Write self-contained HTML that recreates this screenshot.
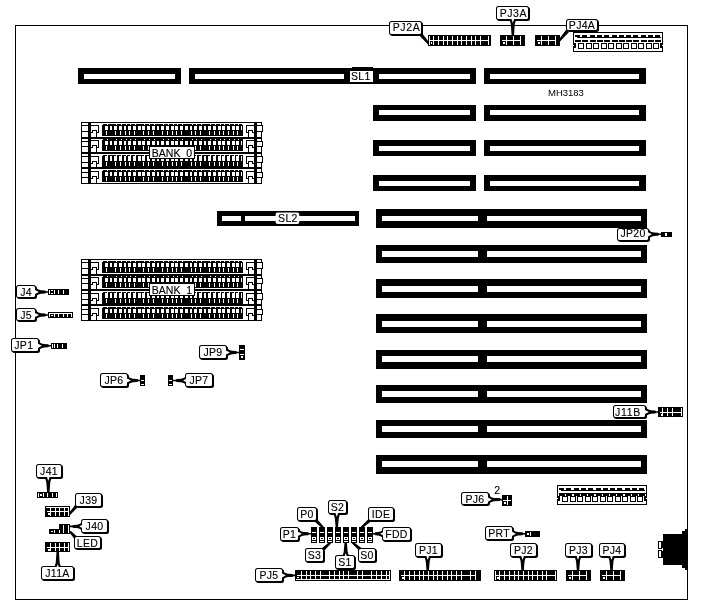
<!DOCTYPE html>
<html><head><meta charset="utf-8"><title>MH3183</title>
<style>
html,body{margin:0;padding:0;background:#fff;}
svg{display:block;will-change:transform;}
text{font-family:"Liberation Sans",sans-serif;}
</style></head><body>
<svg width="702" height="611" viewBox="0 0 702 611" shape-rendering="crispEdges">
<rect x="0" y="0" width="702" height="611" fill="#fff"/>
<rect x="15" y="25" width="673" height="1" fill="#000"/>
<rect x="15" y="25" width="1" height="575" fill="#000"/>
<rect x="687" y="25" width="1" height="575" fill="#000"/>
<rect x="15" y="599" width="673" height="1" fill="#000"/>
<rect x="78" y="68" width="103" height="16" fill="#000"/>
<rect x="84" y="74" width="91" height="5" fill="#fff"/>
<rect x="189" y="68" width="287" height="16" fill="#000"/>
<rect x="352" y="67" width="21" height="1" fill="#000"/>
<rect x="195" y="74" width="149" height="5" fill="#fff"/>
<rect x="379" y="74" width="91" height="5" fill="#fff"/>
<rect x="484" y="68" width="162" height="16" fill="#000"/>
<rect x="490" y="74" width="149" height="5" fill="#fff"/>
<rect x="373" y="105" width="103" height="16" fill="#000"/>
<rect x="379" y="110" width="91" height="5" fill="#fff"/>
<rect x="484" y="105" width="162" height="16" fill="#000"/>
<rect x="490" y="110" width="149" height="5" fill="#fff"/>
<rect x="373" y="140" width="103" height="16" fill="#000"/>
<rect x="379" y="146" width="91" height="5" fill="#fff"/>
<rect x="484" y="140" width="162" height="16" fill="#000"/>
<rect x="490" y="146" width="149" height="5" fill="#fff"/>
<rect x="373" y="175" width="103" height="16" fill="#000"/>
<rect x="379" y="181" width="91" height="5" fill="#fff"/>
<rect x="484" y="175" width="162" height="16" fill="#000"/>
<rect x="490" y="181" width="149" height="5" fill="#fff"/>
<rect x="217" y="211" width="142" height="15" fill="#000"/>
<rect x="222" y="216" width="19" height="5" fill="#fff"/>
<rect x="245" y="216" width="110" height="5" fill="#fff"/>
<rect x="376" y="209" width="271" height="19" fill="#000"/>
<rect x="382" y="216" width="96" height="5" fill="#fff"/>
<rect x="487" y="216" width="154" height="5" fill="#fff"/>
<rect x="376" y="245" width="271" height="18" fill="#000"/>
<rect x="382" y="251" width="96" height="6" fill="#fff"/>
<rect x="487" y="251" width="154" height="6" fill="#fff"/>
<rect x="376" y="279" width="271" height="19" fill="#000"/>
<rect x="382" y="286" width="96" height="6" fill="#fff"/>
<rect x="487" y="286" width="154" height="6" fill="#fff"/>
<rect x="376" y="314" width="271" height="19" fill="#000"/>
<rect x="382" y="321" width="96" height="6" fill="#fff"/>
<rect x="487" y="321" width="154" height="6" fill="#fff"/>
<rect x="376" y="350" width="271" height="19" fill="#000"/>
<rect x="382" y="356" width="96" height="6" fill="#fff"/>
<rect x="487" y="356" width="154" height="6" fill="#fff"/>
<rect x="376" y="385" width="271" height="18" fill="#000"/>
<rect x="382" y="391" width="96" height="6" fill="#fff"/>
<rect x="487" y="391" width="154" height="6" fill="#fff"/>
<rect x="376" y="420" width="271" height="18" fill="#000"/>
<rect x="382" y="426" width="96" height="6" fill="#fff"/>
<rect x="487" y="426" width="154" height="6" fill="#fff"/>
<rect x="376" y="455" width="271" height="19" fill="#000"/>
<rect x="382" y="461" width="96" height="6" fill="#fff"/>
<rect x="487" y="461" width="154" height="6" fill="#fff"/>
<rect x="81" y="122" width="181" height="1" fill="#000"/>
<rect x="81" y="122" width="1" height="16" fill="#000"/>
<rect x="261" y="122" width="1" height="16" fill="#000"/>
<rect x="82" y="125" width="6" height="1" fill="#000"/>
<rect x="82" y="131" width="6" height="1" fill="#000"/>
<rect x="88" y="122" width="3" height="16" fill="#000"/>
<rect x="91" y="125" width="8" height="1" fill="#000"/>
<rect x="98" y="125" width="1" height="8" fill="#000"/>
<rect x="96" y="132" width="3" height="1" fill="#000"/>
<rect x="96" y="130" width="1" height="7" fill="#000"/>
<rect x="92" y="130" width="5" height="1" fill="#000"/>
<rect x="92" y="130" width="1" height="3" fill="#000"/>
<rect x="91" y="132" width="2" height="1" fill="#000"/>
<rect x="102" y="124" width="141" height="12" fill="#000"/>
<rect x="102" y="124" width="1" height="1" fill="#fff"/>
<rect x="242" y="124" width="1" height="1" fill="#fff"/>
<rect x="105" y="126" width="3" height="4" fill="#fff"/>
<rect x="106" y="131" width="1" height="4" fill="#fff"/>
<rect x="107" y="124" width="1" height="1" fill="#fff"/>
<rect x="110" y="126" width="2" height="4" fill="#fff"/>
<rect x="114" y="126" width="3" height="4" fill="#fff"/>
<rect x="115" y="131" width="1" height="4" fill="#fff"/>
<rect x="116" y="124" width="1" height="1" fill="#fff"/>
<rect x="119" y="126" width="3" height="4" fill="#fff"/>
<rect x="120" y="131" width="1" height="4" fill="#fff"/>
<rect x="121" y="124" width="1" height="1" fill="#fff"/>
<rect x="124" y="126" width="2" height="4" fill="#fff"/>
<rect x="125" y="131" width="1" height="4" fill="#fff"/>
<rect x="126" y="124" width="1" height="1" fill="#fff"/>
<rect x="128" y="126" width="3" height="4" fill="#fff"/>
<rect x="129" y="131" width="1" height="4" fill="#fff"/>
<rect x="130" y="124" width="1" height="1" fill="#fff"/>
<rect x="133" y="126" width="3" height="4" fill="#fff"/>
<rect x="134" y="131" width="1" height="4" fill="#fff"/>
<rect x="135" y="124" width="1" height="1" fill="#fff"/>
<rect x="138" y="126" width="3" height="4" fill="#fff"/>
<rect x="142" y="126" width="3" height="4" fill="#fff"/>
<rect x="143" y="131" width="1" height="4" fill="#fff"/>
<rect x="144" y="124" width="1" height="1" fill="#fff"/>
<rect x="147" y="126" width="3" height="4" fill="#fff"/>
<rect x="148" y="131" width="1" height="4" fill="#fff"/>
<rect x="149" y="124" width="1" height="1" fill="#fff"/>
<rect x="152" y="126" width="3" height="4" fill="#fff"/>
<rect x="153" y="131" width="1" height="4" fill="#fff"/>
<rect x="154" y="124" width="1" height="1" fill="#fff"/>
<rect x="157" y="126" width="2" height="4" fill="#fff"/>
<rect x="161" y="126" width="3" height="4" fill="#fff"/>
<rect x="162" y="131" width="1" height="4" fill="#fff"/>
<rect x="163" y="124" width="1" height="1" fill="#fff"/>
<rect x="166" y="126" width="3" height="4" fill="#fff"/>
<rect x="167" y="131" width="1" height="4" fill="#fff"/>
<rect x="168" y="124" width="1" height="1" fill="#fff"/>
<rect x="171" y="126" width="3" height="4" fill="#fff"/>
<rect x="172" y="131" width="1" height="4" fill="#fff"/>
<rect x="173" y="124" width="1" height="1" fill="#fff"/>
<rect x="175" y="126" width="3" height="4" fill="#fff"/>
<rect x="176" y="131" width="1" height="4" fill="#fff"/>
<rect x="177" y="124" width="1" height="1" fill="#fff"/>
<rect x="180" y="126" width="3" height="4" fill="#fff"/>
<rect x="181" y="131" width="1" height="4" fill="#fff"/>
<rect x="182" y="124" width="1" height="1" fill="#fff"/>
<rect x="185" y="126" width="3" height="4" fill="#fff"/>
<rect x="190" y="126" width="2" height="4" fill="#fff"/>
<rect x="191" y="131" width="1" height="4" fill="#fff"/>
<rect x="192" y="124" width="1" height="1" fill="#fff"/>
<rect x="194" y="126" width="3" height="4" fill="#fff"/>
<rect x="195" y="131" width="1" height="4" fill="#fff"/>
<rect x="196" y="124" width="1" height="1" fill="#fff"/>
<rect x="199" y="126" width="3" height="4" fill="#fff"/>
<rect x="200" y="131" width="1" height="4" fill="#fff"/>
<rect x="201" y="124" width="1" height="1" fill="#fff"/>
<rect x="204" y="126" width="2" height="4" fill="#fff"/>
<rect x="208" y="126" width="3" height="4" fill="#fff"/>
<rect x="209" y="131" width="1" height="4" fill="#fff"/>
<rect x="210" y="124" width="1" height="1" fill="#fff"/>
<rect x="213" y="126" width="3" height="4" fill="#fff"/>
<rect x="214" y="131" width="1" height="4" fill="#fff"/>
<rect x="215" y="124" width="1" height="1" fill="#fff"/>
<rect x="218" y="126" width="3" height="4" fill="#fff"/>
<rect x="219" y="131" width="1" height="4" fill="#fff"/>
<rect x="220" y="124" width="1" height="1" fill="#fff"/>
<rect x="222" y="126" width="3" height="4" fill="#fff"/>
<rect x="223" y="131" width="1" height="4" fill="#fff"/>
<rect x="224" y="124" width="1" height="1" fill="#fff"/>
<rect x="227" y="126" width="3" height="4" fill="#fff"/>
<rect x="228" y="131" width="1" height="4" fill="#fff"/>
<rect x="229" y="124" width="1" height="1" fill="#fff"/>
<rect x="232" y="126" width="3" height="4" fill="#fff"/>
<rect x="233" y="131" width="1" height="4" fill="#fff"/>
<rect x="234" y="124" width="1" height="1" fill="#fff"/>
<rect x="236" y="126" width="3" height="4" fill="#fff"/>
<rect x="237" y="131" width="1" height="4" fill="#fff"/>
<rect x="238" y="124" width="1" height="1" fill="#fff"/>
<rect x="241" y="126" width="1" height="4" fill="#fff"/>
<rect x="246" y="125" width="8" height="1" fill="#000"/>
<rect x="246" y="125" width="1" height="8" fill="#000"/>
<rect x="246" y="132" width="3" height="1" fill="#000"/>
<rect x="248" y="130" width="1" height="7" fill="#000"/>
<rect x="248" y="130" width="5" height="1" fill="#000"/>
<rect x="252" y="130" width="1" height="3" fill="#000"/>
<rect x="252" y="132" width="2" height="1" fill="#000"/>
<rect x="254" y="122" width="3" height="16" fill="#000"/>
<rect x="257" y="125" width="5" height="1" fill="#000"/>
<rect x="257" y="131" width="5" height="1" fill="#000"/>
<rect x="262" y="125" width="1" height="7" fill="#000"/>
<rect x="261" y="126" width="1" height="5" fill="#fff"/>
<rect x="81" y="137" width="181" height="2" fill="#000"/>
<rect x="81" y="137" width="1" height="16" fill="#000"/>
<rect x="261" y="137" width="1" height="16" fill="#000"/>
<rect x="82" y="141" width="6" height="1" fill="#000"/>
<rect x="82" y="146" width="6" height="1" fill="#000"/>
<rect x="88" y="137" width="3" height="16" fill="#000"/>
<rect x="91" y="140" width="8" height="1" fill="#000"/>
<rect x="98" y="140" width="1" height="8" fill="#000"/>
<rect x="96" y="147" width="3" height="1" fill="#000"/>
<rect x="96" y="145" width="1" height="7" fill="#000"/>
<rect x="92" y="145" width="5" height="1" fill="#000"/>
<rect x="92" y="145" width="1" height="3" fill="#000"/>
<rect x="91" y="147" width="2" height="1" fill="#000"/>
<rect x="102" y="139" width="141" height="12" fill="#000"/>
<rect x="102" y="139" width="1" height="1" fill="#fff"/>
<rect x="105" y="141" width="3" height="4" fill="#fff"/>
<rect x="106" y="146" width="1" height="4" fill="#fff"/>
<rect x="107" y="139" width="1" height="1" fill="#fff"/>
<rect x="110" y="141" width="2" height="4" fill="#fff"/>
<rect x="114" y="141" width="3" height="4" fill="#fff"/>
<rect x="115" y="146" width="1" height="4" fill="#fff"/>
<rect x="116" y="139" width="1" height="1" fill="#fff"/>
<rect x="119" y="141" width="3" height="4" fill="#fff"/>
<rect x="120" y="146" width="1" height="4" fill="#fff"/>
<rect x="121" y="139" width="1" height="1" fill="#fff"/>
<rect x="124" y="141" width="2" height="4" fill="#fff"/>
<rect x="125" y="146" width="1" height="4" fill="#fff"/>
<rect x="126" y="139" width="1" height="1" fill="#fff"/>
<rect x="128" y="141" width="3" height="4" fill="#fff"/>
<rect x="129" y="146" width="1" height="4" fill="#fff"/>
<rect x="130" y="139" width="1" height="1" fill="#fff"/>
<rect x="133" y="141" width="3" height="4" fill="#fff"/>
<rect x="134" y="146" width="1" height="4" fill="#fff"/>
<rect x="135" y="139" width="1" height="1" fill="#fff"/>
<rect x="138" y="141" width="3" height="4" fill="#fff"/>
<rect x="142" y="141" width="3" height="4" fill="#fff"/>
<rect x="143" y="146" width="1" height="4" fill="#fff"/>
<rect x="144" y="139" width="1" height="1" fill="#fff"/>
<rect x="147" y="141" width="3" height="4" fill="#fff"/>
<rect x="148" y="146" width="1" height="4" fill="#fff"/>
<rect x="149" y="139" width="1" height="1" fill="#fff"/>
<rect x="152" y="141" width="3" height="4" fill="#fff"/>
<rect x="153" y="146" width="1" height="4" fill="#fff"/>
<rect x="154" y="139" width="1" height="1" fill="#fff"/>
<rect x="157" y="141" width="2" height="4" fill="#fff"/>
<rect x="161" y="141" width="3" height="4" fill="#fff"/>
<rect x="162" y="146" width="1" height="4" fill="#fff"/>
<rect x="163" y="139" width="1" height="1" fill="#fff"/>
<rect x="166" y="141" width="3" height="4" fill="#fff"/>
<rect x="167" y="146" width="1" height="4" fill="#fff"/>
<rect x="168" y="139" width="1" height="1" fill="#fff"/>
<rect x="171" y="141" width="3" height="4" fill="#fff"/>
<rect x="172" y="146" width="1" height="4" fill="#fff"/>
<rect x="173" y="139" width="1" height="1" fill="#fff"/>
<rect x="175" y="141" width="3" height="4" fill="#fff"/>
<rect x="176" y="146" width="1" height="4" fill="#fff"/>
<rect x="177" y="139" width="1" height="1" fill="#fff"/>
<rect x="180" y="141" width="3" height="4" fill="#fff"/>
<rect x="181" y="146" width="1" height="4" fill="#fff"/>
<rect x="182" y="139" width="1" height="1" fill="#fff"/>
<rect x="185" y="141" width="3" height="4" fill="#fff"/>
<rect x="190" y="141" width="2" height="4" fill="#fff"/>
<rect x="191" y="146" width="1" height="4" fill="#fff"/>
<rect x="192" y="139" width="1" height="1" fill="#fff"/>
<rect x="194" y="141" width="3" height="4" fill="#fff"/>
<rect x="195" y="146" width="1" height="4" fill="#fff"/>
<rect x="196" y="139" width="1" height="1" fill="#fff"/>
<rect x="199" y="141" width="3" height="4" fill="#fff"/>
<rect x="200" y="146" width="1" height="4" fill="#fff"/>
<rect x="201" y="139" width="1" height="1" fill="#fff"/>
<rect x="204" y="141" width="2" height="4" fill="#fff"/>
<rect x="208" y="141" width="3" height="4" fill="#fff"/>
<rect x="209" y="146" width="1" height="4" fill="#fff"/>
<rect x="210" y="139" width="1" height="1" fill="#fff"/>
<rect x="213" y="141" width="3" height="4" fill="#fff"/>
<rect x="214" y="146" width="1" height="4" fill="#fff"/>
<rect x="215" y="139" width="1" height="1" fill="#fff"/>
<rect x="218" y="141" width="3" height="4" fill="#fff"/>
<rect x="219" y="146" width="1" height="4" fill="#fff"/>
<rect x="220" y="139" width="1" height="1" fill="#fff"/>
<rect x="222" y="141" width="3" height="4" fill="#fff"/>
<rect x="223" y="146" width="1" height="4" fill="#fff"/>
<rect x="224" y="139" width="1" height="1" fill="#fff"/>
<rect x="227" y="141" width="3" height="4" fill="#fff"/>
<rect x="228" y="146" width="1" height="4" fill="#fff"/>
<rect x="229" y="139" width="1" height="1" fill="#fff"/>
<rect x="232" y="141" width="3" height="4" fill="#fff"/>
<rect x="233" y="146" width="1" height="4" fill="#fff"/>
<rect x="234" y="139" width="1" height="1" fill="#fff"/>
<rect x="236" y="141" width="3" height="4" fill="#fff"/>
<rect x="237" y="146" width="1" height="4" fill="#fff"/>
<rect x="238" y="139" width="1" height="1" fill="#fff"/>
<rect x="241" y="141" width="1" height="4" fill="#fff"/>
<rect x="246" y="140" width="8" height="1" fill="#000"/>
<rect x="246" y="140" width="1" height="8" fill="#000"/>
<rect x="246" y="147" width="3" height="1" fill="#000"/>
<rect x="248" y="145" width="1" height="7" fill="#000"/>
<rect x="248" y="145" width="5" height="1" fill="#000"/>
<rect x="252" y="145" width="1" height="3" fill="#000"/>
<rect x="252" y="147" width="2" height="1" fill="#000"/>
<rect x="254" y="137" width="3" height="16" fill="#000"/>
<rect x="257" y="141" width="5" height="1" fill="#000"/>
<rect x="257" y="146" width="5" height="1" fill="#000"/>
<rect x="262" y="141" width="1" height="6" fill="#000"/>
<rect x="261" y="142" width="1" height="4" fill="#fff"/>
<rect x="81" y="152" width="181" height="2" fill="#000"/>
<rect x="81" y="152" width="1" height="16" fill="#000"/>
<rect x="261" y="152" width="1" height="16" fill="#000"/>
<rect x="82" y="156" width="6" height="1" fill="#000"/>
<rect x="82" y="162" width="6" height="1" fill="#000"/>
<rect x="88" y="152" width="3" height="16" fill="#000"/>
<rect x="91" y="156" width="8" height="1" fill="#000"/>
<rect x="98" y="156" width="1" height="8" fill="#000"/>
<rect x="96" y="163" width="3" height="1" fill="#000"/>
<rect x="96" y="161" width="1" height="6" fill="#000"/>
<rect x="92" y="161" width="5" height="1" fill="#000"/>
<rect x="92" y="161" width="1" height="3" fill="#000"/>
<rect x="91" y="163" width="2" height="1" fill="#000"/>
<rect x="102" y="155" width="141" height="12" fill="#000"/>
<rect x="102" y="155" width="1" height="1" fill="#fff"/>
<rect x="105" y="156" width="3" height="5" fill="#fff"/>
<rect x="106" y="162" width="1" height="4" fill="#fff"/>
<rect x="107" y="155" width="1" height="1" fill="#fff"/>
<rect x="110" y="156" width="2" height="5" fill="#fff"/>
<rect x="114" y="156" width="3" height="5" fill="#fff"/>
<rect x="115" y="162" width="1" height="4" fill="#fff"/>
<rect x="116" y="155" width="1" height="1" fill="#fff"/>
<rect x="119" y="156" width="3" height="5" fill="#fff"/>
<rect x="120" y="162" width="1" height="4" fill="#fff"/>
<rect x="121" y="155" width="1" height="1" fill="#fff"/>
<rect x="124" y="156" width="2" height="5" fill="#fff"/>
<rect x="125" y="162" width="1" height="4" fill="#fff"/>
<rect x="126" y="155" width="1" height="1" fill="#fff"/>
<rect x="128" y="156" width="3" height="5" fill="#fff"/>
<rect x="129" y="162" width="1" height="4" fill="#fff"/>
<rect x="130" y="155" width="1" height="1" fill="#fff"/>
<rect x="133" y="156" width="3" height="5" fill="#fff"/>
<rect x="134" y="162" width="1" height="4" fill="#fff"/>
<rect x="135" y="155" width="1" height="1" fill="#fff"/>
<rect x="138" y="156" width="3" height="5" fill="#fff"/>
<rect x="142" y="156" width="3" height="5" fill="#fff"/>
<rect x="143" y="162" width="1" height="4" fill="#fff"/>
<rect x="144" y="155" width="1" height="1" fill="#fff"/>
<rect x="147" y="156" width="3" height="5" fill="#fff"/>
<rect x="148" y="162" width="1" height="4" fill="#fff"/>
<rect x="149" y="155" width="1" height="1" fill="#fff"/>
<rect x="152" y="156" width="3" height="5" fill="#fff"/>
<rect x="153" y="162" width="1" height="4" fill="#fff"/>
<rect x="154" y="155" width="1" height="1" fill="#fff"/>
<rect x="157" y="156" width="2" height="5" fill="#fff"/>
<rect x="161" y="156" width="3" height="5" fill="#fff"/>
<rect x="162" y="162" width="1" height="4" fill="#fff"/>
<rect x="163" y="155" width="1" height="1" fill="#fff"/>
<rect x="166" y="156" width="3" height="5" fill="#fff"/>
<rect x="167" y="162" width="1" height="4" fill="#fff"/>
<rect x="168" y="155" width="1" height="1" fill="#fff"/>
<rect x="171" y="156" width="3" height="5" fill="#fff"/>
<rect x="172" y="162" width="1" height="4" fill="#fff"/>
<rect x="173" y="155" width="1" height="1" fill="#fff"/>
<rect x="175" y="156" width="3" height="5" fill="#fff"/>
<rect x="176" y="162" width="1" height="4" fill="#fff"/>
<rect x="177" y="155" width="1" height="1" fill="#fff"/>
<rect x="180" y="156" width="3" height="5" fill="#fff"/>
<rect x="181" y="162" width="1" height="4" fill="#fff"/>
<rect x="182" y="155" width="1" height="1" fill="#fff"/>
<rect x="185" y="156" width="3" height="5" fill="#fff"/>
<rect x="190" y="156" width="2" height="5" fill="#fff"/>
<rect x="191" y="162" width="1" height="4" fill="#fff"/>
<rect x="192" y="155" width="1" height="1" fill="#fff"/>
<rect x="194" y="156" width="3" height="5" fill="#fff"/>
<rect x="195" y="162" width="1" height="4" fill="#fff"/>
<rect x="196" y="155" width="1" height="1" fill="#fff"/>
<rect x="199" y="156" width="3" height="5" fill="#fff"/>
<rect x="200" y="162" width="1" height="4" fill="#fff"/>
<rect x="201" y="155" width="1" height="1" fill="#fff"/>
<rect x="204" y="156" width="2" height="5" fill="#fff"/>
<rect x="208" y="156" width="3" height="5" fill="#fff"/>
<rect x="209" y="162" width="1" height="4" fill="#fff"/>
<rect x="210" y="155" width="1" height="1" fill="#fff"/>
<rect x="213" y="156" width="3" height="5" fill="#fff"/>
<rect x="214" y="162" width="1" height="4" fill="#fff"/>
<rect x="215" y="155" width="1" height="1" fill="#fff"/>
<rect x="218" y="156" width="3" height="5" fill="#fff"/>
<rect x="219" y="162" width="1" height="4" fill="#fff"/>
<rect x="220" y="155" width="1" height="1" fill="#fff"/>
<rect x="222" y="156" width="3" height="5" fill="#fff"/>
<rect x="223" y="162" width="1" height="4" fill="#fff"/>
<rect x="224" y="155" width="1" height="1" fill="#fff"/>
<rect x="227" y="156" width="3" height="5" fill="#fff"/>
<rect x="228" y="162" width="1" height="4" fill="#fff"/>
<rect x="229" y="155" width="1" height="1" fill="#fff"/>
<rect x="232" y="156" width="3" height="5" fill="#fff"/>
<rect x="233" y="162" width="1" height="4" fill="#fff"/>
<rect x="234" y="155" width="1" height="1" fill="#fff"/>
<rect x="236" y="156" width="3" height="5" fill="#fff"/>
<rect x="237" y="162" width="1" height="4" fill="#fff"/>
<rect x="238" y="155" width="1" height="1" fill="#fff"/>
<rect x="241" y="156" width="1" height="5" fill="#fff"/>
<rect x="246" y="156" width="8" height="1" fill="#000"/>
<rect x="246" y="156" width="1" height="8" fill="#000"/>
<rect x="246" y="163" width="3" height="1" fill="#000"/>
<rect x="248" y="161" width="1" height="6" fill="#000"/>
<rect x="248" y="161" width="5" height="1" fill="#000"/>
<rect x="252" y="161" width="1" height="3" fill="#000"/>
<rect x="252" y="163" width="2" height="1" fill="#000"/>
<rect x="254" y="152" width="3" height="16" fill="#000"/>
<rect x="257" y="156" width="5" height="1" fill="#000"/>
<rect x="257" y="162" width="5" height="1" fill="#000"/>
<rect x="262" y="156" width="1" height="7" fill="#000"/>
<rect x="261" y="157" width="1" height="5" fill="#fff"/>
<rect x="81" y="167" width="181" height="2" fill="#000"/>
<rect x="81" y="183" width="181" height="1" fill="#000"/>
<rect x="81" y="167" width="1" height="16" fill="#000"/>
<rect x="261" y="167" width="1" height="16" fill="#000"/>
<rect x="82" y="172" width="6" height="1" fill="#000"/>
<rect x="82" y="177" width="6" height="1" fill="#000"/>
<rect x="88" y="167" width="3" height="16" fill="#000"/>
<rect x="91" y="171" width="8" height="1" fill="#000"/>
<rect x="98" y="171" width="1" height="8" fill="#000"/>
<rect x="96" y="178" width="3" height="1" fill="#000"/>
<rect x="96" y="176" width="1" height="7" fill="#000"/>
<rect x="92" y="176" width="5" height="1" fill="#000"/>
<rect x="92" y="176" width="1" height="3" fill="#000"/>
<rect x="91" y="178" width="2" height="1" fill="#000"/>
<rect x="102" y="170" width="141" height="12" fill="#000"/>
<rect x="102" y="170" width="1" height="1" fill="#fff"/>
<rect x="242" y="170" width="1" height="1" fill="#fff"/>
<rect x="105" y="172" width="3" height="4" fill="#fff"/>
<rect x="106" y="177" width="1" height="4" fill="#fff"/>
<rect x="107" y="170" width="1" height="1" fill="#fff"/>
<rect x="110" y="172" width="2" height="4" fill="#fff"/>
<rect x="114" y="172" width="3" height="4" fill="#fff"/>
<rect x="115" y="177" width="1" height="4" fill="#fff"/>
<rect x="116" y="170" width="1" height="1" fill="#fff"/>
<rect x="119" y="172" width="3" height="4" fill="#fff"/>
<rect x="120" y="177" width="1" height="4" fill="#fff"/>
<rect x="121" y="170" width="1" height="1" fill="#fff"/>
<rect x="124" y="172" width="2" height="4" fill="#fff"/>
<rect x="125" y="177" width="1" height="4" fill="#fff"/>
<rect x="126" y="170" width="1" height="1" fill="#fff"/>
<rect x="128" y="172" width="3" height="4" fill="#fff"/>
<rect x="129" y="177" width="1" height="4" fill="#fff"/>
<rect x="130" y="170" width="1" height="1" fill="#fff"/>
<rect x="133" y="172" width="3" height="4" fill="#fff"/>
<rect x="134" y="177" width="1" height="4" fill="#fff"/>
<rect x="135" y="170" width="1" height="1" fill="#fff"/>
<rect x="138" y="172" width="3" height="4" fill="#fff"/>
<rect x="142" y="172" width="3" height="4" fill="#fff"/>
<rect x="143" y="177" width="1" height="4" fill="#fff"/>
<rect x="144" y="170" width="1" height="1" fill="#fff"/>
<rect x="147" y="172" width="3" height="4" fill="#fff"/>
<rect x="148" y="177" width="1" height="4" fill="#fff"/>
<rect x="149" y="170" width="1" height="1" fill="#fff"/>
<rect x="152" y="172" width="3" height="4" fill="#fff"/>
<rect x="153" y="177" width="1" height="4" fill="#fff"/>
<rect x="154" y="170" width="1" height="1" fill="#fff"/>
<rect x="157" y="172" width="2" height="4" fill="#fff"/>
<rect x="161" y="172" width="3" height="4" fill="#fff"/>
<rect x="162" y="177" width="1" height="4" fill="#fff"/>
<rect x="163" y="170" width="1" height="1" fill="#fff"/>
<rect x="166" y="172" width="3" height="4" fill="#fff"/>
<rect x="167" y="177" width="1" height="4" fill="#fff"/>
<rect x="168" y="170" width="1" height="1" fill="#fff"/>
<rect x="171" y="172" width="3" height="4" fill="#fff"/>
<rect x="172" y="177" width="1" height="4" fill="#fff"/>
<rect x="173" y="170" width="1" height="1" fill="#fff"/>
<rect x="175" y="172" width="3" height="4" fill="#fff"/>
<rect x="176" y="177" width="1" height="4" fill="#fff"/>
<rect x="177" y="170" width="1" height="1" fill="#fff"/>
<rect x="180" y="172" width="3" height="4" fill="#fff"/>
<rect x="181" y="177" width="1" height="4" fill="#fff"/>
<rect x="182" y="170" width="1" height="1" fill="#fff"/>
<rect x="185" y="172" width="3" height="4" fill="#fff"/>
<rect x="190" y="172" width="2" height="4" fill="#fff"/>
<rect x="191" y="177" width="1" height="4" fill="#fff"/>
<rect x="192" y="170" width="1" height="1" fill="#fff"/>
<rect x="194" y="172" width="3" height="4" fill="#fff"/>
<rect x="195" y="177" width="1" height="4" fill="#fff"/>
<rect x="196" y="170" width="1" height="1" fill="#fff"/>
<rect x="199" y="172" width="3" height="4" fill="#fff"/>
<rect x="200" y="177" width="1" height="4" fill="#fff"/>
<rect x="201" y="170" width="1" height="1" fill="#fff"/>
<rect x="204" y="172" width="2" height="4" fill="#fff"/>
<rect x="208" y="172" width="3" height="4" fill="#fff"/>
<rect x="209" y="177" width="1" height="4" fill="#fff"/>
<rect x="210" y="170" width="1" height="1" fill="#fff"/>
<rect x="213" y="172" width="3" height="4" fill="#fff"/>
<rect x="214" y="177" width="1" height="4" fill="#fff"/>
<rect x="215" y="170" width="1" height="1" fill="#fff"/>
<rect x="218" y="172" width="3" height="4" fill="#fff"/>
<rect x="219" y="177" width="1" height="4" fill="#fff"/>
<rect x="220" y="170" width="1" height="1" fill="#fff"/>
<rect x="222" y="172" width="3" height="4" fill="#fff"/>
<rect x="223" y="177" width="1" height="4" fill="#fff"/>
<rect x="224" y="170" width="1" height="1" fill="#fff"/>
<rect x="227" y="172" width="3" height="4" fill="#fff"/>
<rect x="228" y="177" width="1" height="4" fill="#fff"/>
<rect x="229" y="170" width="1" height="1" fill="#fff"/>
<rect x="232" y="172" width="3" height="4" fill="#fff"/>
<rect x="233" y="177" width="1" height="4" fill="#fff"/>
<rect x="234" y="170" width="1" height="1" fill="#fff"/>
<rect x="236" y="172" width="3" height="4" fill="#fff"/>
<rect x="237" y="177" width="1" height="4" fill="#fff"/>
<rect x="238" y="170" width="1" height="1" fill="#fff"/>
<rect x="241" y="172" width="1" height="4" fill="#fff"/>
<rect x="246" y="171" width="8" height="1" fill="#000"/>
<rect x="246" y="171" width="1" height="8" fill="#000"/>
<rect x="246" y="178" width="3" height="1" fill="#000"/>
<rect x="248" y="176" width="1" height="7" fill="#000"/>
<rect x="248" y="176" width="5" height="1" fill="#000"/>
<rect x="252" y="176" width="1" height="3" fill="#000"/>
<rect x="252" y="178" width="2" height="1" fill="#000"/>
<rect x="254" y="167" width="3" height="16" fill="#000"/>
<rect x="257" y="172" width="5" height="1" fill="#000"/>
<rect x="257" y="177" width="5" height="1" fill="#000"/>
<rect x="262" y="172" width="1" height="6" fill="#000"/>
<rect x="261" y="173" width="1" height="4" fill="#fff"/>
<rect x="81" y="259" width="181" height="1" fill="#000"/>
<rect x="81" y="259" width="1" height="16" fill="#000"/>
<rect x="261" y="259" width="1" height="16" fill="#000"/>
<rect x="82" y="262" width="6" height="1" fill="#000"/>
<rect x="82" y="268" width="6" height="1" fill="#000"/>
<rect x="88" y="259" width="3" height="16" fill="#000"/>
<rect x="91" y="262" width="8" height="1" fill="#000"/>
<rect x="98" y="262" width="1" height="8" fill="#000"/>
<rect x="96" y="269" width="3" height="1" fill="#000"/>
<rect x="96" y="267" width="1" height="7" fill="#000"/>
<rect x="92" y="267" width="5" height="1" fill="#000"/>
<rect x="92" y="267" width="1" height="3" fill="#000"/>
<rect x="91" y="269" width="2" height="1" fill="#000"/>
<rect x="102" y="261" width="141" height="12" fill="#000"/>
<rect x="102" y="261" width="1" height="1" fill="#fff"/>
<rect x="242" y="261" width="1" height="1" fill="#fff"/>
<rect x="105" y="263" width="3" height="4" fill="#fff"/>
<rect x="106" y="268" width="1" height="4" fill="#fff"/>
<rect x="107" y="261" width="1" height="1" fill="#fff"/>
<rect x="110" y="263" width="2" height="4" fill="#fff"/>
<rect x="114" y="263" width="3" height="4" fill="#fff"/>
<rect x="115" y="268" width="1" height="4" fill="#fff"/>
<rect x="116" y="261" width="1" height="1" fill="#fff"/>
<rect x="119" y="263" width="3" height="4" fill="#fff"/>
<rect x="120" y="268" width="1" height="4" fill="#fff"/>
<rect x="121" y="261" width="1" height="1" fill="#fff"/>
<rect x="124" y="263" width="2" height="4" fill="#fff"/>
<rect x="125" y="268" width="1" height="4" fill="#fff"/>
<rect x="126" y="261" width="1" height="1" fill="#fff"/>
<rect x="128" y="263" width="3" height="4" fill="#fff"/>
<rect x="129" y="268" width="1" height="4" fill="#fff"/>
<rect x="130" y="261" width="1" height="1" fill="#fff"/>
<rect x="133" y="263" width="3" height="4" fill="#fff"/>
<rect x="134" y="268" width="1" height="4" fill="#fff"/>
<rect x="135" y="261" width="1" height="1" fill="#fff"/>
<rect x="138" y="263" width="3" height="4" fill="#fff"/>
<rect x="142" y="263" width="3" height="4" fill="#fff"/>
<rect x="143" y="268" width="1" height="4" fill="#fff"/>
<rect x="144" y="261" width="1" height="1" fill="#fff"/>
<rect x="147" y="263" width="3" height="4" fill="#fff"/>
<rect x="148" y="268" width="1" height="4" fill="#fff"/>
<rect x="149" y="261" width="1" height="1" fill="#fff"/>
<rect x="152" y="263" width="3" height="4" fill="#fff"/>
<rect x="153" y="268" width="1" height="4" fill="#fff"/>
<rect x="154" y="261" width="1" height="1" fill="#fff"/>
<rect x="157" y="263" width="2" height="4" fill="#fff"/>
<rect x="161" y="263" width="3" height="4" fill="#fff"/>
<rect x="162" y="268" width="1" height="4" fill="#fff"/>
<rect x="163" y="261" width="1" height="1" fill="#fff"/>
<rect x="166" y="263" width="3" height="4" fill="#fff"/>
<rect x="167" y="268" width="1" height="4" fill="#fff"/>
<rect x="168" y="261" width="1" height="1" fill="#fff"/>
<rect x="171" y="263" width="3" height="4" fill="#fff"/>
<rect x="172" y="268" width="1" height="4" fill="#fff"/>
<rect x="173" y="261" width="1" height="1" fill="#fff"/>
<rect x="175" y="263" width="3" height="4" fill="#fff"/>
<rect x="176" y="268" width="1" height="4" fill="#fff"/>
<rect x="177" y="261" width="1" height="1" fill="#fff"/>
<rect x="180" y="263" width="3" height="4" fill="#fff"/>
<rect x="181" y="268" width="1" height="4" fill="#fff"/>
<rect x="182" y="261" width="1" height="1" fill="#fff"/>
<rect x="185" y="263" width="3" height="4" fill="#fff"/>
<rect x="190" y="263" width="2" height="4" fill="#fff"/>
<rect x="191" y="268" width="1" height="4" fill="#fff"/>
<rect x="192" y="261" width="1" height="1" fill="#fff"/>
<rect x="194" y="263" width="3" height="4" fill="#fff"/>
<rect x="195" y="268" width="1" height="4" fill="#fff"/>
<rect x="196" y="261" width="1" height="1" fill="#fff"/>
<rect x="199" y="263" width="3" height="4" fill="#fff"/>
<rect x="200" y="268" width="1" height="4" fill="#fff"/>
<rect x="201" y="261" width="1" height="1" fill="#fff"/>
<rect x="204" y="263" width="2" height="4" fill="#fff"/>
<rect x="208" y="263" width="3" height="4" fill="#fff"/>
<rect x="209" y="268" width="1" height="4" fill="#fff"/>
<rect x="210" y="261" width="1" height="1" fill="#fff"/>
<rect x="213" y="263" width="3" height="4" fill="#fff"/>
<rect x="214" y="268" width="1" height="4" fill="#fff"/>
<rect x="215" y="261" width="1" height="1" fill="#fff"/>
<rect x="218" y="263" width="3" height="4" fill="#fff"/>
<rect x="219" y="268" width="1" height="4" fill="#fff"/>
<rect x="220" y="261" width="1" height="1" fill="#fff"/>
<rect x="222" y="263" width="3" height="4" fill="#fff"/>
<rect x="223" y="268" width="1" height="4" fill="#fff"/>
<rect x="224" y="261" width="1" height="1" fill="#fff"/>
<rect x="227" y="263" width="3" height="4" fill="#fff"/>
<rect x="228" y="268" width="1" height="4" fill="#fff"/>
<rect x="229" y="261" width="1" height="1" fill="#fff"/>
<rect x="232" y="263" width="3" height="4" fill="#fff"/>
<rect x="233" y="268" width="1" height="4" fill="#fff"/>
<rect x="234" y="261" width="1" height="1" fill="#fff"/>
<rect x="236" y="263" width="3" height="4" fill="#fff"/>
<rect x="237" y="268" width="1" height="4" fill="#fff"/>
<rect x="238" y="261" width="1" height="1" fill="#fff"/>
<rect x="241" y="263" width="1" height="4" fill="#fff"/>
<rect x="246" y="262" width="8" height="1" fill="#000"/>
<rect x="246" y="262" width="1" height="8" fill="#000"/>
<rect x="246" y="269" width="3" height="1" fill="#000"/>
<rect x="248" y="267" width="1" height="7" fill="#000"/>
<rect x="248" y="267" width="5" height="1" fill="#000"/>
<rect x="252" y="267" width="1" height="3" fill="#000"/>
<rect x="252" y="269" width="2" height="1" fill="#000"/>
<rect x="254" y="259" width="3" height="16" fill="#000"/>
<rect x="257" y="262" width="5" height="1" fill="#000"/>
<rect x="257" y="268" width="5" height="1" fill="#000"/>
<rect x="262" y="262" width="1" height="7" fill="#000"/>
<rect x="261" y="263" width="1" height="5" fill="#fff"/>
<rect x="81" y="274" width="181" height="2" fill="#000"/>
<rect x="81" y="274" width="1" height="16" fill="#000"/>
<rect x="261" y="274" width="1" height="16" fill="#000"/>
<rect x="82" y="278" width="6" height="1" fill="#000"/>
<rect x="82" y="283" width="6" height="1" fill="#000"/>
<rect x="88" y="274" width="3" height="16" fill="#000"/>
<rect x="91" y="277" width="8" height="1" fill="#000"/>
<rect x="98" y="277" width="1" height="8" fill="#000"/>
<rect x="96" y="284" width="3" height="1" fill="#000"/>
<rect x="96" y="282" width="1" height="7" fill="#000"/>
<rect x="92" y="282" width="5" height="1" fill="#000"/>
<rect x="92" y="282" width="1" height="3" fill="#000"/>
<rect x="91" y="284" width="2" height="1" fill="#000"/>
<rect x="102" y="276" width="141" height="12" fill="#000"/>
<rect x="102" y="276" width="1" height="1" fill="#fff"/>
<rect x="105" y="278" width="3" height="4" fill="#fff"/>
<rect x="106" y="283" width="1" height="4" fill="#fff"/>
<rect x="107" y="276" width="1" height="1" fill="#fff"/>
<rect x="110" y="278" width="2" height="4" fill="#fff"/>
<rect x="114" y="278" width="3" height="4" fill="#fff"/>
<rect x="115" y="283" width="1" height="4" fill="#fff"/>
<rect x="116" y="276" width="1" height="1" fill="#fff"/>
<rect x="119" y="278" width="3" height="4" fill="#fff"/>
<rect x="120" y="283" width="1" height="4" fill="#fff"/>
<rect x="121" y="276" width="1" height="1" fill="#fff"/>
<rect x="124" y="278" width="2" height="4" fill="#fff"/>
<rect x="125" y="283" width="1" height="4" fill="#fff"/>
<rect x="126" y="276" width="1" height="1" fill="#fff"/>
<rect x="128" y="278" width="3" height="4" fill="#fff"/>
<rect x="129" y="283" width="1" height="4" fill="#fff"/>
<rect x="130" y="276" width="1" height="1" fill="#fff"/>
<rect x="133" y="278" width="3" height="4" fill="#fff"/>
<rect x="134" y="283" width="1" height="4" fill="#fff"/>
<rect x="135" y="276" width="1" height="1" fill="#fff"/>
<rect x="138" y="278" width="3" height="4" fill="#fff"/>
<rect x="142" y="278" width="3" height="4" fill="#fff"/>
<rect x="143" y="283" width="1" height="4" fill="#fff"/>
<rect x="144" y="276" width="1" height="1" fill="#fff"/>
<rect x="147" y="278" width="3" height="4" fill="#fff"/>
<rect x="148" y="283" width="1" height="4" fill="#fff"/>
<rect x="149" y="276" width="1" height="1" fill="#fff"/>
<rect x="152" y="278" width="3" height="4" fill="#fff"/>
<rect x="153" y="283" width="1" height="4" fill="#fff"/>
<rect x="154" y="276" width="1" height="1" fill="#fff"/>
<rect x="157" y="278" width="2" height="4" fill="#fff"/>
<rect x="161" y="278" width="3" height="4" fill="#fff"/>
<rect x="162" y="283" width="1" height="4" fill="#fff"/>
<rect x="163" y="276" width="1" height="1" fill="#fff"/>
<rect x="166" y="278" width="3" height="4" fill="#fff"/>
<rect x="167" y="283" width="1" height="4" fill="#fff"/>
<rect x="168" y="276" width="1" height="1" fill="#fff"/>
<rect x="171" y="278" width="3" height="4" fill="#fff"/>
<rect x="172" y="283" width="1" height="4" fill="#fff"/>
<rect x="173" y="276" width="1" height="1" fill="#fff"/>
<rect x="175" y="278" width="3" height="4" fill="#fff"/>
<rect x="176" y="283" width="1" height="4" fill="#fff"/>
<rect x="177" y="276" width="1" height="1" fill="#fff"/>
<rect x="180" y="278" width="3" height="4" fill="#fff"/>
<rect x="181" y="283" width="1" height="4" fill="#fff"/>
<rect x="182" y="276" width="1" height="1" fill="#fff"/>
<rect x="185" y="278" width="3" height="4" fill="#fff"/>
<rect x="190" y="278" width="2" height="4" fill="#fff"/>
<rect x="191" y="283" width="1" height="4" fill="#fff"/>
<rect x="192" y="276" width="1" height="1" fill="#fff"/>
<rect x="194" y="278" width="3" height="4" fill="#fff"/>
<rect x="195" y="283" width="1" height="4" fill="#fff"/>
<rect x="196" y="276" width="1" height="1" fill="#fff"/>
<rect x="199" y="278" width="3" height="4" fill="#fff"/>
<rect x="200" y="283" width="1" height="4" fill="#fff"/>
<rect x="201" y="276" width="1" height="1" fill="#fff"/>
<rect x="204" y="278" width="2" height="4" fill="#fff"/>
<rect x="208" y="278" width="3" height="4" fill="#fff"/>
<rect x="209" y="283" width="1" height="4" fill="#fff"/>
<rect x="210" y="276" width="1" height="1" fill="#fff"/>
<rect x="213" y="278" width="3" height="4" fill="#fff"/>
<rect x="214" y="283" width="1" height="4" fill="#fff"/>
<rect x="215" y="276" width="1" height="1" fill="#fff"/>
<rect x="218" y="278" width="3" height="4" fill="#fff"/>
<rect x="219" y="283" width="1" height="4" fill="#fff"/>
<rect x="220" y="276" width="1" height="1" fill="#fff"/>
<rect x="222" y="278" width="3" height="4" fill="#fff"/>
<rect x="223" y="283" width="1" height="4" fill="#fff"/>
<rect x="224" y="276" width="1" height="1" fill="#fff"/>
<rect x="227" y="278" width="3" height="4" fill="#fff"/>
<rect x="228" y="283" width="1" height="4" fill="#fff"/>
<rect x="229" y="276" width="1" height="1" fill="#fff"/>
<rect x="232" y="278" width="3" height="4" fill="#fff"/>
<rect x="233" y="283" width="1" height="4" fill="#fff"/>
<rect x="234" y="276" width="1" height="1" fill="#fff"/>
<rect x="236" y="278" width="3" height="4" fill="#fff"/>
<rect x="237" y="283" width="1" height="4" fill="#fff"/>
<rect x="238" y="276" width="1" height="1" fill="#fff"/>
<rect x="241" y="278" width="1" height="4" fill="#fff"/>
<rect x="246" y="277" width="8" height="1" fill="#000"/>
<rect x="246" y="277" width="1" height="8" fill="#000"/>
<rect x="246" y="284" width="3" height="1" fill="#000"/>
<rect x="248" y="282" width="1" height="7" fill="#000"/>
<rect x="248" y="282" width="5" height="1" fill="#000"/>
<rect x="252" y="282" width="1" height="3" fill="#000"/>
<rect x="252" y="284" width="2" height="1" fill="#000"/>
<rect x="254" y="274" width="3" height="16" fill="#000"/>
<rect x="257" y="278" width="5" height="1" fill="#000"/>
<rect x="257" y="283" width="5" height="1" fill="#000"/>
<rect x="262" y="278" width="1" height="6" fill="#000"/>
<rect x="261" y="279" width="1" height="4" fill="#fff"/>
<rect x="81" y="289" width="181" height="2" fill="#000"/>
<rect x="81" y="289" width="1" height="16" fill="#000"/>
<rect x="261" y="289" width="1" height="16" fill="#000"/>
<rect x="82" y="293" width="6" height="1" fill="#000"/>
<rect x="82" y="299" width="6" height="1" fill="#000"/>
<rect x="88" y="289" width="3" height="16" fill="#000"/>
<rect x="91" y="293" width="8" height="1" fill="#000"/>
<rect x="98" y="293" width="1" height="8" fill="#000"/>
<rect x="96" y="300" width="3" height="1" fill="#000"/>
<rect x="96" y="298" width="1" height="6" fill="#000"/>
<rect x="92" y="298" width="5" height="1" fill="#000"/>
<rect x="92" y="298" width="1" height="3" fill="#000"/>
<rect x="91" y="300" width="2" height="1" fill="#000"/>
<rect x="102" y="292" width="141" height="12" fill="#000"/>
<rect x="102" y="292" width="1" height="1" fill="#fff"/>
<rect x="105" y="293" width="3" height="5" fill="#fff"/>
<rect x="106" y="299" width="1" height="4" fill="#fff"/>
<rect x="107" y="292" width="1" height="1" fill="#fff"/>
<rect x="110" y="293" width="2" height="5" fill="#fff"/>
<rect x="114" y="293" width="3" height="5" fill="#fff"/>
<rect x="115" y="299" width="1" height="4" fill="#fff"/>
<rect x="116" y="292" width="1" height="1" fill="#fff"/>
<rect x="119" y="293" width="3" height="5" fill="#fff"/>
<rect x="120" y="299" width="1" height="4" fill="#fff"/>
<rect x="121" y="292" width="1" height="1" fill="#fff"/>
<rect x="124" y="293" width="2" height="5" fill="#fff"/>
<rect x="125" y="299" width="1" height="4" fill="#fff"/>
<rect x="126" y="292" width="1" height="1" fill="#fff"/>
<rect x="128" y="293" width="3" height="5" fill="#fff"/>
<rect x="129" y="299" width="1" height="4" fill="#fff"/>
<rect x="130" y="292" width="1" height="1" fill="#fff"/>
<rect x="133" y="293" width="3" height="5" fill="#fff"/>
<rect x="134" y="299" width="1" height="4" fill="#fff"/>
<rect x="135" y="292" width="1" height="1" fill="#fff"/>
<rect x="138" y="293" width="3" height="5" fill="#fff"/>
<rect x="142" y="293" width="3" height="5" fill="#fff"/>
<rect x="143" y="299" width="1" height="4" fill="#fff"/>
<rect x="144" y="292" width="1" height="1" fill="#fff"/>
<rect x="147" y="293" width="3" height="5" fill="#fff"/>
<rect x="148" y="299" width="1" height="4" fill="#fff"/>
<rect x="149" y="292" width="1" height="1" fill="#fff"/>
<rect x="152" y="293" width="3" height="5" fill="#fff"/>
<rect x="153" y="299" width="1" height="4" fill="#fff"/>
<rect x="154" y="292" width="1" height="1" fill="#fff"/>
<rect x="157" y="293" width="2" height="5" fill="#fff"/>
<rect x="161" y="293" width="3" height="5" fill="#fff"/>
<rect x="162" y="299" width="1" height="4" fill="#fff"/>
<rect x="163" y="292" width="1" height="1" fill="#fff"/>
<rect x="166" y="293" width="3" height="5" fill="#fff"/>
<rect x="167" y="299" width="1" height="4" fill="#fff"/>
<rect x="168" y="292" width="1" height="1" fill="#fff"/>
<rect x="171" y="293" width="3" height="5" fill="#fff"/>
<rect x="172" y="299" width="1" height="4" fill="#fff"/>
<rect x="173" y="292" width="1" height="1" fill="#fff"/>
<rect x="175" y="293" width="3" height="5" fill="#fff"/>
<rect x="176" y="299" width="1" height="4" fill="#fff"/>
<rect x="177" y="292" width="1" height="1" fill="#fff"/>
<rect x="180" y="293" width="3" height="5" fill="#fff"/>
<rect x="181" y="299" width="1" height="4" fill="#fff"/>
<rect x="182" y="292" width="1" height="1" fill="#fff"/>
<rect x="185" y="293" width="3" height="5" fill="#fff"/>
<rect x="190" y="293" width="2" height="5" fill="#fff"/>
<rect x="191" y="299" width="1" height="4" fill="#fff"/>
<rect x="192" y="292" width="1" height="1" fill="#fff"/>
<rect x="194" y="293" width="3" height="5" fill="#fff"/>
<rect x="195" y="299" width="1" height="4" fill="#fff"/>
<rect x="196" y="292" width="1" height="1" fill="#fff"/>
<rect x="199" y="293" width="3" height="5" fill="#fff"/>
<rect x="200" y="299" width="1" height="4" fill="#fff"/>
<rect x="201" y="292" width="1" height="1" fill="#fff"/>
<rect x="204" y="293" width="2" height="5" fill="#fff"/>
<rect x="208" y="293" width="3" height="5" fill="#fff"/>
<rect x="209" y="299" width="1" height="4" fill="#fff"/>
<rect x="210" y="292" width="1" height="1" fill="#fff"/>
<rect x="213" y="293" width="3" height="5" fill="#fff"/>
<rect x="214" y="299" width="1" height="4" fill="#fff"/>
<rect x="215" y="292" width="1" height="1" fill="#fff"/>
<rect x="218" y="293" width="3" height="5" fill="#fff"/>
<rect x="219" y="299" width="1" height="4" fill="#fff"/>
<rect x="220" y="292" width="1" height="1" fill="#fff"/>
<rect x="222" y="293" width="3" height="5" fill="#fff"/>
<rect x="223" y="299" width="1" height="4" fill="#fff"/>
<rect x="224" y="292" width="1" height="1" fill="#fff"/>
<rect x="227" y="293" width="3" height="5" fill="#fff"/>
<rect x="228" y="299" width="1" height="4" fill="#fff"/>
<rect x="229" y="292" width="1" height="1" fill="#fff"/>
<rect x="232" y="293" width="3" height="5" fill="#fff"/>
<rect x="233" y="299" width="1" height="4" fill="#fff"/>
<rect x="234" y="292" width="1" height="1" fill="#fff"/>
<rect x="236" y="293" width="3" height="5" fill="#fff"/>
<rect x="237" y="299" width="1" height="4" fill="#fff"/>
<rect x="238" y="292" width="1" height="1" fill="#fff"/>
<rect x="241" y="293" width="1" height="5" fill="#fff"/>
<rect x="246" y="293" width="8" height="1" fill="#000"/>
<rect x="246" y="293" width="1" height="8" fill="#000"/>
<rect x="246" y="300" width="3" height="1" fill="#000"/>
<rect x="248" y="298" width="1" height="6" fill="#000"/>
<rect x="248" y="298" width="5" height="1" fill="#000"/>
<rect x="252" y="298" width="1" height="3" fill="#000"/>
<rect x="252" y="300" width="2" height="1" fill="#000"/>
<rect x="254" y="289" width="3" height="16" fill="#000"/>
<rect x="257" y="293" width="5" height="1" fill="#000"/>
<rect x="257" y="299" width="5" height="1" fill="#000"/>
<rect x="262" y="293" width="1" height="7" fill="#000"/>
<rect x="261" y="294" width="1" height="5" fill="#fff"/>
<rect x="81" y="304" width="181" height="2" fill="#000"/>
<rect x="81" y="320" width="181" height="1" fill="#000"/>
<rect x="81" y="304" width="1" height="16" fill="#000"/>
<rect x="261" y="304" width="1" height="16" fill="#000"/>
<rect x="82" y="309" width="6" height="1" fill="#000"/>
<rect x="82" y="314" width="6" height="1" fill="#000"/>
<rect x="88" y="304" width="3" height="16" fill="#000"/>
<rect x="91" y="308" width="8" height="1" fill="#000"/>
<rect x="98" y="308" width="1" height="8" fill="#000"/>
<rect x="96" y="315" width="3" height="1" fill="#000"/>
<rect x="96" y="313" width="1" height="7" fill="#000"/>
<rect x="92" y="313" width="5" height="1" fill="#000"/>
<rect x="92" y="313" width="1" height="3" fill="#000"/>
<rect x="91" y="315" width="2" height="1" fill="#000"/>
<rect x="102" y="307" width="141" height="12" fill="#000"/>
<rect x="102" y="307" width="1" height="1" fill="#fff"/>
<rect x="242" y="307" width="1" height="1" fill="#fff"/>
<rect x="105" y="309" width="3" height="4" fill="#fff"/>
<rect x="106" y="314" width="1" height="4" fill="#fff"/>
<rect x="107" y="307" width="1" height="1" fill="#fff"/>
<rect x="110" y="309" width="2" height="4" fill="#fff"/>
<rect x="114" y="309" width="3" height="4" fill="#fff"/>
<rect x="115" y="314" width="1" height="4" fill="#fff"/>
<rect x="116" y="307" width="1" height="1" fill="#fff"/>
<rect x="119" y="309" width="3" height="4" fill="#fff"/>
<rect x="120" y="314" width="1" height="4" fill="#fff"/>
<rect x="121" y="307" width="1" height="1" fill="#fff"/>
<rect x="124" y="309" width="2" height="4" fill="#fff"/>
<rect x="125" y="314" width="1" height="4" fill="#fff"/>
<rect x="126" y="307" width="1" height="1" fill="#fff"/>
<rect x="128" y="309" width="3" height="4" fill="#fff"/>
<rect x="129" y="314" width="1" height="4" fill="#fff"/>
<rect x="130" y="307" width="1" height="1" fill="#fff"/>
<rect x="133" y="309" width="3" height="4" fill="#fff"/>
<rect x="134" y="314" width="1" height="4" fill="#fff"/>
<rect x="135" y="307" width="1" height="1" fill="#fff"/>
<rect x="138" y="309" width="3" height="4" fill="#fff"/>
<rect x="142" y="309" width="3" height="4" fill="#fff"/>
<rect x="143" y="314" width="1" height="4" fill="#fff"/>
<rect x="144" y="307" width="1" height="1" fill="#fff"/>
<rect x="147" y="309" width="3" height="4" fill="#fff"/>
<rect x="148" y="314" width="1" height="4" fill="#fff"/>
<rect x="149" y="307" width="1" height="1" fill="#fff"/>
<rect x="152" y="309" width="3" height="4" fill="#fff"/>
<rect x="153" y="314" width="1" height="4" fill="#fff"/>
<rect x="154" y="307" width="1" height="1" fill="#fff"/>
<rect x="157" y="309" width="2" height="4" fill="#fff"/>
<rect x="161" y="309" width="3" height="4" fill="#fff"/>
<rect x="162" y="314" width="1" height="4" fill="#fff"/>
<rect x="163" y="307" width="1" height="1" fill="#fff"/>
<rect x="166" y="309" width="3" height="4" fill="#fff"/>
<rect x="167" y="314" width="1" height="4" fill="#fff"/>
<rect x="168" y="307" width="1" height="1" fill="#fff"/>
<rect x="171" y="309" width="3" height="4" fill="#fff"/>
<rect x="172" y="314" width="1" height="4" fill="#fff"/>
<rect x="173" y="307" width="1" height="1" fill="#fff"/>
<rect x="175" y="309" width="3" height="4" fill="#fff"/>
<rect x="176" y="314" width="1" height="4" fill="#fff"/>
<rect x="177" y="307" width="1" height="1" fill="#fff"/>
<rect x="180" y="309" width="3" height="4" fill="#fff"/>
<rect x="181" y="314" width="1" height="4" fill="#fff"/>
<rect x="182" y="307" width="1" height="1" fill="#fff"/>
<rect x="185" y="309" width="3" height="4" fill="#fff"/>
<rect x="190" y="309" width="2" height="4" fill="#fff"/>
<rect x="191" y="314" width="1" height="4" fill="#fff"/>
<rect x="192" y="307" width="1" height="1" fill="#fff"/>
<rect x="194" y="309" width="3" height="4" fill="#fff"/>
<rect x="195" y="314" width="1" height="4" fill="#fff"/>
<rect x="196" y="307" width="1" height="1" fill="#fff"/>
<rect x="199" y="309" width="3" height="4" fill="#fff"/>
<rect x="200" y="314" width="1" height="4" fill="#fff"/>
<rect x="201" y="307" width="1" height="1" fill="#fff"/>
<rect x="204" y="309" width="2" height="4" fill="#fff"/>
<rect x="208" y="309" width="3" height="4" fill="#fff"/>
<rect x="209" y="314" width="1" height="4" fill="#fff"/>
<rect x="210" y="307" width="1" height="1" fill="#fff"/>
<rect x="213" y="309" width="3" height="4" fill="#fff"/>
<rect x="214" y="314" width="1" height="4" fill="#fff"/>
<rect x="215" y="307" width="1" height="1" fill="#fff"/>
<rect x="218" y="309" width="3" height="4" fill="#fff"/>
<rect x="219" y="314" width="1" height="4" fill="#fff"/>
<rect x="220" y="307" width="1" height="1" fill="#fff"/>
<rect x="222" y="309" width="3" height="4" fill="#fff"/>
<rect x="223" y="314" width="1" height="4" fill="#fff"/>
<rect x="224" y="307" width="1" height="1" fill="#fff"/>
<rect x="227" y="309" width="3" height="4" fill="#fff"/>
<rect x="228" y="314" width="1" height="4" fill="#fff"/>
<rect x="229" y="307" width="1" height="1" fill="#fff"/>
<rect x="232" y="309" width="3" height="4" fill="#fff"/>
<rect x="233" y="314" width="1" height="4" fill="#fff"/>
<rect x="234" y="307" width="1" height="1" fill="#fff"/>
<rect x="236" y="309" width="3" height="4" fill="#fff"/>
<rect x="237" y="314" width="1" height="4" fill="#fff"/>
<rect x="238" y="307" width="1" height="1" fill="#fff"/>
<rect x="241" y="309" width="1" height="4" fill="#fff"/>
<rect x="246" y="308" width="8" height="1" fill="#000"/>
<rect x="246" y="308" width="1" height="8" fill="#000"/>
<rect x="246" y="315" width="3" height="1" fill="#000"/>
<rect x="248" y="313" width="1" height="7" fill="#000"/>
<rect x="248" y="313" width="5" height="1" fill="#000"/>
<rect x="252" y="313" width="1" height="3" fill="#000"/>
<rect x="252" y="315" width="2" height="1" fill="#000"/>
<rect x="254" y="304" width="3" height="16" fill="#000"/>
<rect x="257" y="309" width="5" height="1" fill="#000"/>
<rect x="257" y="314" width="5" height="1" fill="#000"/>
<rect x="262" y="309" width="1" height="6" fill="#000"/>
<rect x="261" y="310" width="1" height="4" fill="#fff"/>
<g font-family="'Liberation Sans',sans-serif" fill="#000">
<rect x="149" y="146" width="46" height="13" fill="#000"/>
<rect x="150" y="147" width="44" height="11" fill="#fff"/>
<text x="172" y="156.8" font-size="10.5" text-anchor="middle" letter-spacing="0" stroke="#000" stroke-width="0.12">BANK  0</text>
<rect x="149" y="283" width="46" height="13" fill="#000"/>
<rect x="150" y="284" width="44" height="11" fill="#fff"/>
<text x="172" y="293.8" font-size="10.5" text-anchor="middle" letter-spacing="0" stroke="#000" stroke-width="0.12">BANK  1</text>
<rect x="350" y="71" width="23" height="11" fill="#fff"/>
<text x="360.8" y="79.7" font-size="10.5" text-anchor="middle" letter-spacing="0.3" stroke="#000" stroke-width="0.12">SL1</text>
<rect x="275.6" y="212.5" width="23.7" height="11.5" rx="2" ry="2" fill="#fff" shape-rendering="auto"/>
<text x="287.9" y="221.7" font-size="10.5" text-anchor="middle" letter-spacing="0.3" stroke="#000" stroke-width="0.12">SL2</text>
<polygon points="418.633,34.6714 428.241,44.6508 429.759,43.3492 421.367,32.3286" fill="#000" shape-rendering="auto"/>
<rect x="390" y="22" width="33" height="14" rx="2.5" ry="2.5" fill="#000" shape-rendering="auto"/>
<rect x="389" y="21" width="33" height="14" rx="2.5" ry="2.5" fill="#000" shape-rendering="auto"/>
<rect x="390" y="22" width="31" height="12" rx="1.5" ry="1.5" fill="#fff" shape-rendering="auto"/>
<text x="406.6" y="31.2" font-size="10.5" text-anchor="middle" letter-spacing="0.7" stroke="#000" stroke-width="0.12">PJ2A</text>
<rect x="428" y="35" width="63" height="11" fill="#000"/>
<rect x="433" y="36" width="1" height="9" fill="#fff"/>
<rect x="438" y="36" width="1" height="9" fill="#fff"/>
<rect x="443" y="36" width="1" height="9" fill="#fff"/>
<rect x="447" y="36" width="1" height="9" fill="#fff"/>
<rect x="452" y="36" width="1" height="9" fill="#fff"/>
<rect x="457" y="36" width="1" height="9" fill="#fff"/>
<rect x="461" y="36" width="1" height="9" fill="#fff"/>
<rect x="466" y="36" width="1" height="9" fill="#fff"/>
<rect x="471" y="36" width="1" height="9" fill="#fff"/>
<rect x="475" y="36" width="1" height="9" fill="#fff"/>
<rect x="480" y="36" width="1" height="9" fill="#fff"/>
<rect x="488" y="36" width="1" height="9" fill="#fff"/>
<rect x="429" y="40" width="60" height="1" fill="#fff"/>
<rect x="429" y="36" width="1" height="9" fill="#fff"/>
<rect x="431" y="42" width="1" height="2" fill="#fff"/>
<polygon points="509.2,19 510.8,24 511.6,35.5 514,35.5 514.8,24 516.4,19" fill="#000" shape-rendering="auto"/>
<rect x="497" y="7" width="33" height="14" rx="2.5" ry="2.5" fill="#000" shape-rendering="auto"/>
<rect x="496" y="6" width="33" height="14" rx="2.5" ry="2.5" fill="#000" shape-rendering="auto"/>
<rect x="497" y="7" width="31" height="12" rx="1.5" ry="1.5" fill="#fff" shape-rendering="auto"/>
<polygon points="511.2,18 512.6,22.5 513,22.5 514.4,18" fill="#fff" shape-rendering="auto"/>
<text x="513.4" y="17" font-size="10.5" text-anchor="middle" letter-spacing="0.6" stroke="#000" stroke-width="0.12">PJ3A</text>
<rect x="500" y="35" width="25" height="11" fill="#000"/>
<rect x="506" y="36" width="1" height="9" fill="#fff"/>
<rect x="513" y="36" width="1" height="9" fill="#fff"/>
<rect x="520" y="36" width="1" height="9" fill="#fff"/>
<rect x="502" y="40" width="19" height="1" fill="#fff"/>
<rect x="503" y="42" width="2" height="2" fill="#fff"/>
<polygon points="566.129,29.8342 558.238,40.3524 559.762,41.6476 568.871,32.1658" fill="#000" shape-rendering="auto"/>
<rect x="567" y="20" width="32" height="12" rx="2.5" ry="2.5" fill="#000" shape-rendering="auto"/>
<rect x="566" y="19" width="32" height="12" rx="2.5" ry="2.5" fill="#000" shape-rendering="auto"/>
<rect x="567" y="20" width="30" height="10" rx="1.5" ry="1.5" fill="#fff" shape-rendering="auto"/>
<text x="582" y="28.7" font-size="10.5" text-anchor="middle" letter-spacing="0.3" stroke="#000" stroke-width="0.12">PJ4A</text>
<rect x="535" y="35" width="25" height="11" fill="#000"/>
<rect x="541" y="36" width="1" height="9" fill="#fff"/>
<rect x="548" y="36" width="1" height="9" fill="#fff"/>
<rect x="555" y="36" width="1" height="9" fill="#fff"/>
<rect x="537" y="40" width="19" height="1" fill="#fff"/>
<rect x="538" y="42" width="2" height="2" fill="#fff"/>
<rect x="573" y="32" width="90" height="20" fill="#000"/>
<rect x="574" y="33" width="88" height="18" fill="#fff"/>
<rect x="575" y="35" width="5" height="2" fill="#000"/>
<rect x="575" y="40" width="6" height="2" fill="#000"/>
<rect x="582" y="35" width="5" height="2" fill="#000"/>
<rect x="582" y="40" width="6" height="2" fill="#000"/>
<rect x="590" y="35" width="5" height="2" fill="#000"/>
<rect x="590" y="40" width="6" height="2" fill="#000"/>
<rect x="597" y="35" width="5" height="2" fill="#000"/>
<rect x="597" y="40" width="6" height="2" fill="#000"/>
<rect x="604" y="35" width="5" height="2" fill="#000"/>
<rect x="604" y="40" width="6" height="2" fill="#000"/>
<rect x="612" y="35" width="5" height="2" fill="#000"/>
<rect x="612" y="40" width="6" height="2" fill="#000"/>
<rect x="619" y="35" width="5" height="2" fill="#000"/>
<rect x="619" y="40" width="6" height="2" fill="#000"/>
<rect x="626" y="35" width="5" height="2" fill="#000"/>
<rect x="626" y="40" width="6" height="2" fill="#000"/>
<rect x="633" y="35" width="5" height="2" fill="#000"/>
<rect x="633" y="40" width="6" height="2" fill="#000"/>
<rect x="641" y="35" width="5" height="2" fill="#000"/>
<rect x="641" y="40" width="6" height="2" fill="#000"/>
<rect x="648" y="35" width="5" height="2" fill="#000"/>
<rect x="648" y="40" width="6" height="2" fill="#000"/>
<rect x="655" y="35" width="5" height="2" fill="#000"/>
<rect x="655" y="40" width="6" height="2" fill="#000"/>
<rect x="578" y="43" width="6" height="6" fill="#000"/>
<rect x="579" y="44" width="4" height="4" fill="#fff"/>
<rect x="586" y="43" width="6" height="6" fill="#000"/>
<rect x="587" y="44" width="4" height="4" fill="#fff"/>
<rect x="593" y="43" width="6" height="6" fill="#000"/>
<rect x="594" y="44" width="4" height="4" fill="#fff"/>
<rect x="601" y="43" width="6" height="6" fill="#000"/>
<rect x="602" y="44" width="4" height="4" fill="#fff"/>
<rect x="608" y="43" width="6" height="6" fill="#000"/>
<rect x="609" y="44" width="4" height="4" fill="#fff"/>
<rect x="616" y="43" width="6" height="6" fill="#000"/>
<rect x="617" y="44" width="4" height="4" fill="#fff"/>
<rect x="623" y="43" width="6" height="6" fill="#000"/>
<rect x="624" y="44" width="4" height="4" fill="#fff"/>
<rect x="631" y="43" width="6" height="6" fill="#000"/>
<rect x="632" y="44" width="4" height="4" fill="#fff"/>
<rect x="638" y="43" width="6" height="6" fill="#000"/>
<rect x="639" y="44" width="4" height="4" fill="#fff"/>
<rect x="646" y="43" width="6" height="6" fill="#000"/>
<rect x="647" y="44" width="4" height="4" fill="#fff"/>
<rect x="653" y="43" width="6" height="6" fill="#000"/>
<rect x="654" y="44" width="4" height="4" fill="#fff"/>
<rect x="577" y="37" width="84" height="1" fill="#000"/>
<rect x="573" y="43" width="3" height="5" fill="#000"/>
<rect x="573" y="45" width="1" height="1" fill="#fff"/>
<rect x="660" y="43" width="3" height="5" fill="#000"/>
<rect x="662" y="45" width="1" height="1" fill="#fff"/>
<text x="548" y="95.6" font-size="9.5" text-anchor="start" letter-spacing="0">MH3183</text>
<polygon points="35,287.5 38.5,289.6 41,290.3 45.05,290.5 46.05,291.2 48.5,291.2 48.5,292.8 46.05,292.8 45.05,293.5 41,293.7 38.5,294.4 35,296.5" fill="#000" shape-rendering="auto"/>
<rect x="17" y="286" width="20" height="13" rx="2.5" ry="2.5" fill="#000" shape-rendering="auto"/>
<rect x="16" y="285" width="20" height="13" rx="2.5" ry="2.5" fill="#000" shape-rendering="auto"/>
<rect x="17" y="286" width="18" height="11" rx="1.5" ry="1.5" fill="#fff" shape-rendering="auto"/>
<polygon points="34,289.4 38.5,291.8 38.5,292.2 34,294.6" fill="#fff" shape-rendering="auto"/>
<text x="26" y="296" font-size="10.5" text-anchor="middle" letter-spacing="0.3" stroke="#000" stroke-width="0.12">J4</text>
<rect x="48" y="289" width="21" height="6" fill="#000"/>
<rect x="49" y="290" width="1" height="4" fill="#fff"/>
<rect x="54" y="290" width="1" height="4" fill="#fff"/>
<rect x="58" y="290" width="1" height="4" fill="#fff"/>
<rect x="63" y="290" width="1" height="4" fill="#fff"/>
<rect x="51" y="290" width="2" height="1" fill="#fff"/>
<rect x="51" y="293" width="2" height="1" fill="#fff"/>
<polygon points="35,310.5 38.5,312.6 41,313.3 45.05,313.5 46.05,314.2 48.5,314.2 48.5,315.8 46.05,315.8 45.05,316.5 41,316.7 38.5,317.4 35,319.5" fill="#000" shape-rendering="auto"/>
<rect x="17" y="309" width="20" height="13" rx="2.5" ry="2.5" fill="#000" shape-rendering="auto"/>
<rect x="16" y="308" width="20" height="13" rx="2.5" ry="2.5" fill="#000" shape-rendering="auto"/>
<rect x="17" y="309" width="18" height="11" rx="1.5" ry="1.5" fill="#fff" shape-rendering="auto"/>
<polygon points="34,312.4 38.5,314.8 38.5,315.2 34,317.6" fill="#fff" shape-rendering="auto"/>
<text x="26" y="319" font-size="10.5" text-anchor="middle" letter-spacing="0.3" stroke="#000" stroke-width="0.12">J5</text>
<rect x="48" y="312" width="25" height="6" fill="#000"/>
<rect x="49" y="313" width="23" height="1" fill="#fff"/>
<rect x="49" y="314" width="1" height="3" fill="#fff"/>
<rect x="54" y="314" width="1" height="3" fill="#fff"/>
<rect x="58" y="314" width="1" height="3" fill="#fff"/>
<rect x="63" y="314" width="1" height="3" fill="#fff"/>
<rect x="67" y="314" width="1" height="3" fill="#fff"/>
<rect x="71" y="314" width="1" height="3" fill="#fff"/>
<rect x="51" y="315" width="2" height="1" fill="#fff"/>
<polygon points="38,341.3 41.5,343.4 44,344.1 48.05,344.3 49.05,345 51.5,345 51.5,346.6 49.05,346.6 48.05,347.3 44,347.5 41.5,348.2 38,350.3" fill="#000" shape-rendering="auto"/>
<rect x="12" y="339" width="28" height="14" rx="2.5" ry="2.5" fill="#000" shape-rendering="auto"/>
<rect x="11" y="338" width="28" height="14" rx="2.5" ry="2.5" fill="#000" shape-rendering="auto"/>
<rect x="12" y="339" width="26" height="12" rx="1.5" ry="1.5" fill="#fff" shape-rendering="auto"/>
<polygon points="37,343.2 41.5,345.6 41.5,346 37,348.4" fill="#fff" shape-rendering="auto"/>
<text x="23.8" y="349" font-size="10.5" text-anchor="middle" letter-spacing="0.3" stroke="#000" stroke-width="0.12">JP1</text>
<rect x="51" y="343" width="16" height="6" fill="#000"/>
<rect x="52" y="344" width="1" height="4" fill="#fff"/>
<rect x="54" y="344" width="1" height="4" fill="#fff"/>
<rect x="57" y="344" width="1" height="4" fill="#fff"/>
<rect x="62" y="344" width="1" height="4" fill="#fff"/>
<polygon points="226,348 229.5,350.1 232,350.8 236.05,351 237.05,351.7 239.5,351.7 239.5,353.3 237.05,353.3 236.05,354 232,354.2 229.5,354.9 226,357" fill="#000" shape-rendering="auto"/>
<rect x="200" y="346" width="28" height="14" rx="2.5" ry="2.5" fill="#000" shape-rendering="auto"/>
<rect x="199" y="345" width="28" height="14" rx="2.5" ry="2.5" fill="#000" shape-rendering="auto"/>
<rect x="200" y="346" width="26" height="12" rx="1.5" ry="1.5" fill="#fff" shape-rendering="auto"/>
<polygon points="225,349.9 229.5,352.3 229.5,352.7 225,355.1" fill="#fff" shape-rendering="auto"/>
<text x="213" y="356" font-size="10.5" text-anchor="middle" letter-spacing="0.3" stroke="#000" stroke-width="0.12">JP9</text>
<rect x="239" y="345" width="6" height="15" fill="#000"/>
<rect x="240" y="349" width="4" height="1" fill="#fff"/>
<rect x="240" y="354" width="4" height="1" fill="#fff"/>
<rect x="241" y="356" width="2" height="2" fill="#fff"/>
<polygon points="127,376 130.5,378.1 133,378.8 137.4,379 138.4,379.7 141,379.7 141,381.3 138.4,381.3 137.4,382 133,382.2 130.5,382.9 127,385" fill="#000" shape-rendering="auto"/>
<rect x="101" y="374" width="28" height="14" rx="2.5" ry="2.5" fill="#000" shape-rendering="auto"/>
<rect x="100" y="373" width="28" height="14" rx="2.5" ry="2.5" fill="#000" shape-rendering="auto"/>
<rect x="101" y="374" width="26" height="12" rx="1.5" ry="1.5" fill="#fff" shape-rendering="auto"/>
<polygon points="126,377.9 130.5,380.3 130.5,380.7 126,383.1" fill="#fff" shape-rendering="auto"/>
<text x="114" y="384" font-size="10.5" text-anchor="middle" letter-spacing="0.3" stroke="#000" stroke-width="0.12">JP6</text>
<rect x="140" y="375" width="5" height="11" fill="#000"/>
<rect x="141" y="380" width="3" height="1" fill="#fff"/>
<rect x="141" y="384" width="3" height="1" fill="#fff"/>
<polygon points="187,376 183.5,378.1 181,378.8 176.6,379 175.6,379.7 173,379.7 173,381.3 175.6,381.3 176.6,382 181,382.2 183.5,382.9 187,385" fill="#000" shape-rendering="auto"/>
<rect x="186" y="374" width="28" height="14" rx="2.5" ry="2.5" fill="#000" shape-rendering="auto"/>
<rect x="185" y="373" width="28" height="14" rx="2.5" ry="2.5" fill="#000" shape-rendering="auto"/>
<rect x="186" y="374" width="26" height="12" rx="1.5" ry="1.5" fill="#fff" shape-rendering="auto"/>
<polygon points="188,377.9 183.5,380.3 183.5,380.7 188,383.1" fill="#fff" shape-rendering="auto"/>
<text x="199" y="384" font-size="10.5" text-anchor="middle" letter-spacing="0.3" stroke="#000" stroke-width="0.12">JP7</text>
<rect x="168" y="375" width="5" height="11" fill="#000"/>
<rect x="169" y="380" width="3" height="1" fill="#fff"/>
<rect x="169" y="384" width="3" height="1" fill="#fff"/>
<polygon points="44.7,477 46.3,482 47.1,492.5 49.5,492.5 50.3,482 51.9,477" fill="#000" shape-rendering="auto"/>
<rect x="37" y="465" width="26" height="14" rx="2.5" ry="2.5" fill="#000" shape-rendering="auto"/>
<rect x="36" y="464" width="26" height="14" rx="2.5" ry="2.5" fill="#000" shape-rendering="auto"/>
<rect x="37" y="465" width="24" height="12" rx="1.5" ry="1.5" fill="#fff" shape-rendering="auto"/>
<polygon points="46.7,476 48.1,480.5 48.5,480.5 49.9,476" fill="#fff" shape-rendering="auto"/>
<text x="49" y="475" font-size="10.5" text-anchor="middle" letter-spacing="0.3" stroke="#000" stroke-width="0.12">J41</text>
<rect x="37" y="492" width="21" height="6" fill="#000"/>
<rect x="38" y="493" width="1" height="4" fill="#fff"/>
<rect x="43" y="493" width="1" height="4" fill="#fff"/>
<rect x="47" y="493" width="1" height="4" fill="#fff"/>
<rect x="52" y="493" width="1" height="4" fill="#fff"/>
<rect x="56" y="493" width="1" height="4" fill="#fff"/>
<rect x="40" y="494" width="2" height="2" fill="#fff"/>
<polygon points="75.6503,504.309 68.7502,513.338 70.2498,514.662 78.3497,506.691" fill="#000" shape-rendering="auto"/>
<rect x="76" y="494" width="27" height="14" rx="2.5" ry="2.5" fill="#000" shape-rendering="auto"/>
<rect x="75" y="493" width="27" height="14" rx="2.5" ry="2.5" fill="#000" shape-rendering="auto"/>
<rect x="76" y="494" width="25" height="12" rx="1.5" ry="1.5" fill="#fff" shape-rendering="auto"/>
<text x="88.5" y="504" font-size="10.5" text-anchor="middle" letter-spacing="0.3" stroke="#000" stroke-width="0.12">J39</text>
<rect x="45" y="506" width="25" height="11" fill="#000"/>
<rect x="50" y="507" width="1" height="9" fill="#fff"/>
<rect x="55" y="507" width="1" height="9" fill="#fff"/>
<rect x="59" y="507" width="1" height="9" fill="#fff"/>
<rect x="64" y="507" width="1" height="9" fill="#fff"/>
<rect x="68" y="507" width="1" height="9" fill="#fff"/>
<rect x="47" y="511" width="22" height="1" fill="#fff"/>
<rect x="46" y="507" width="23" height="1" fill="#fff"/>
<rect x="48" y="513" width="2" height="2" fill="#fff"/>
<polygon points="83,521.9 79.5,524 77,524.7 73.3,524.9 72.3,525.6 70,525.6 70,527.2 72.3,527.2 73.3,527.9 77,528.1 79.5,528.8 83,530.9" fill="#000" shape-rendering="auto"/>
<rect x="82" y="520" width="27" height="14" rx="2.5" ry="2.5" fill="#000" shape-rendering="auto"/>
<rect x="81" y="519" width="27" height="14" rx="2.5" ry="2.5" fill="#000" shape-rendering="auto"/>
<rect x="82" y="520" width="25" height="12" rx="1.5" ry="1.5" fill="#fff" shape-rendering="auto"/>
<polygon points="84,523.8 79.5,526.2 79.5,526.6 84,529" fill="#fff" shape-rendering="auto"/>
<text x="94.5" y="530" font-size="10.5" text-anchor="middle" letter-spacing="0.3" stroke="#000" stroke-width="0.12">J40</text>
<rect x="49" y="529" width="11" height="5" fill="#000"/>
<rect x="59" y="524" width="11" height="10" fill="#000"/>
<rect x="51" y="531" width="2" height="1" fill="#fff"/>
<rect x="54" y="530" width="1" height="3" fill="#fff"/>
<rect x="59" y="530" width="1" height="3" fill="#fff"/>
<rect x="63" y="525" width="1" height="8" fill="#fff"/>
<rect x="68" y="525" width="1" height="8" fill="#fff"/>
<polygon points="77.3226,536.779 70.7348,530.822 69.2652,532.178 74.6774,539.221" fill="#000" shape-rendering="auto"/>
<rect x="75" y="537" width="27" height="13" rx="2.5" ry="2.5" fill="#000" shape-rendering="auto"/>
<rect x="74" y="536" width="27" height="13" rx="2.5" ry="2.5" fill="#000" shape-rendering="auto"/>
<rect x="75" y="537" width="25" height="11" rx="1.5" ry="1.5" fill="#fff" shape-rendering="auto"/>
<text x="87.5" y="547" font-size="10.5" text-anchor="middle" letter-spacing="0.3" stroke="#000" stroke-width="0.12">LED</text>
<rect x="45" y="542" width="25" height="10" fill="#000"/>
<rect x="50" y="543" width="1" height="8" fill="#fff"/>
<rect x="55" y="543" width="1" height="8" fill="#fff"/>
<rect x="59" y="543" width="1" height="8" fill="#fff"/>
<rect x="64" y="543" width="1" height="8" fill="#fff"/>
<rect x="68" y="543" width="1" height="8" fill="#fff"/>
<rect x="47" y="547" width="22" height="1" fill="#fff"/>
<rect x="48" y="549" width="2" height="2" fill="#fff"/>
<polygon points="54.1,568 55.7,563 56.5,551.5 58.9,551.5 59.7,563 61.3,568" fill="#000" shape-rendering="auto"/>
<rect x="42" y="567" width="33" height="14" rx="2.5" ry="2.5" fill="#000" shape-rendering="auto"/>
<rect x="41" y="566" width="33" height="14" rx="2.5" ry="2.5" fill="#000" shape-rendering="auto"/>
<rect x="42" y="567" width="31" height="12" rx="1.5" ry="1.5" fill="#fff" shape-rendering="auto"/>
<polygon points="56.1,569 57.5,564.5 57.9,564.5 59.3,569" fill="#fff" shape-rendering="auto"/>
<text x="57.5" y="577" font-size="10.5" text-anchor="middle" letter-spacing="0.3" stroke="#000" stroke-width="0.12">J11A</text>
<rect x="311" y="527" width="6" height="16" fill="#000"/>
<rect x="312" y="532" width="4" height="1" fill="#fff"/>
<rect x="312" y="537" width="4" height="3" fill="#fff"/>
<rect x="313" y="538" width="2" height="1" fill="#000"/>
<rect x="312" y="541" width="4" height="1" fill="#fff"/>
<rect x="319" y="527" width="6" height="16" fill="#000"/>
<rect x="320" y="532" width="4" height="1" fill="#fff"/>
<rect x="320" y="537" width="4" height="3" fill="#fff"/>
<rect x="321" y="538" width="2" height="1" fill="#000"/>
<rect x="320" y="541" width="4" height="1" fill="#fff"/>
<rect x="327" y="527" width="6" height="16" fill="#000"/>
<rect x="328" y="532" width="4" height="1" fill="#fff"/>
<rect x="328" y="537" width="4" height="3" fill="#fff"/>
<rect x="329" y="538" width="2" height="1" fill="#000"/>
<rect x="328" y="541" width="4" height="1" fill="#fff"/>
<rect x="335" y="527" width="6" height="16" fill="#000"/>
<rect x="336" y="532" width="4" height="1" fill="#fff"/>
<rect x="336" y="537" width="4" height="3" fill="#fff"/>
<rect x="337" y="538" width="2" height="1" fill="#000"/>
<rect x="336" y="541" width="4" height="1" fill="#fff"/>
<rect x="343" y="527" width="6" height="16" fill="#000"/>
<rect x="344" y="532" width="4" height="1" fill="#fff"/>
<rect x="344" y="537" width="4" height="3" fill="#fff"/>
<rect x="345" y="538" width="2" height="1" fill="#000"/>
<rect x="344" y="541" width="4" height="1" fill="#fff"/>
<rect x="351" y="527" width="6" height="16" fill="#000"/>
<rect x="352" y="532" width="4" height="1" fill="#fff"/>
<rect x="352" y="537" width="4" height="3" fill="#fff"/>
<rect x="353" y="538" width="2" height="1" fill="#000"/>
<rect x="352" y="541" width="4" height="1" fill="#fff"/>
<rect x="359" y="527" width="6" height="16" fill="#000"/>
<rect x="360" y="532" width="4" height="1" fill="#fff"/>
<rect x="360" y="537" width="4" height="3" fill="#fff"/>
<rect x="361" y="538" width="2" height="1" fill="#000"/>
<rect x="360" y="541" width="4" height="1" fill="#fff"/>
<rect x="367" y="527" width="6" height="16" fill="#000"/>
<rect x="368" y="532" width="4" height="1" fill="#fff"/>
<rect x="368" y="537" width="4" height="3" fill="#fff"/>
<rect x="369" y="538" width="2" height="1" fill="#000"/>
<rect x="368" y="541" width="4" height="1" fill="#fff"/>
<polygon points="314.227,521.273 322.293,528.207 323.707,526.793 316.773,518.727" fill="#000" shape-rendering="auto"/>
<rect x="298" y="508" width="20" height="14" rx="2.5" ry="2.5" fill="#000" shape-rendering="auto"/>
<rect x="297" y="507" width="20" height="14" rx="2.5" ry="2.5" fill="#000" shape-rendering="auto"/>
<rect x="298" y="508" width="18" height="12" rx="1.5" ry="1.5" fill="#fff" shape-rendering="auto"/>
<text x="307" y="518" font-size="10.5" text-anchor="middle" letter-spacing="0.3" stroke="#000" stroke-width="0.12">P0</text>
<polygon points="333.2,513 334.8,518 335.6,527 338,527 338.8,518 340.4,513" fill="#000" shape-rendering="auto"/>
<rect x="329" y="501" width="19" height="14" rx="2.5" ry="2.5" fill="#000" shape-rendering="auto"/>
<rect x="328" y="500" width="19" height="14" rx="2.5" ry="2.5" fill="#000" shape-rendering="auto"/>
<rect x="329" y="501" width="17" height="12" rx="1.5" ry="1.5" fill="#fff" shape-rendering="auto"/>
<polygon points="335.2,512 336.6,516.5 337,516.5 338.4,512" fill="#fff" shape-rendering="auto"/>
<text x="337.5" y="511" font-size="10.5" text-anchor="middle" letter-spacing="0.3" stroke="#000" stroke-width="0.12">S2</text>
<polygon points="368.809,518.65 360.838,526.75 362.162,528.25 371.191,521.35" fill="#000" shape-rendering="auto"/>
<rect x="369" y="508" width="26" height="14" rx="2.5" ry="2.5" fill="#000" shape-rendering="auto"/>
<rect x="368" y="507" width="26" height="14" rx="2.5" ry="2.5" fill="#000" shape-rendering="auto"/>
<rect x="369" y="508" width="24" height="12" rx="1.5" ry="1.5" fill="#fff" shape-rendering="auto"/>
<text x="381" y="518" font-size="10.5" text-anchor="middle" letter-spacing="0.3" stroke="#000" stroke-width="0.12">IDE</text>
<polygon points="298,529.3 301.5,531.4 304,532.1 308.05,532.3 309.05,533 311.5,533 311.5,534.6 309.05,534.6 308.05,535.3 304,535.5 301.5,536.2 298,538.3" fill="#000" shape-rendering="auto"/>
<rect x="281" y="528" width="19" height="14" rx="2.5" ry="2.5" fill="#000" shape-rendering="auto"/>
<rect x="280" y="527" width="19" height="14" rx="2.5" ry="2.5" fill="#000" shape-rendering="auto"/>
<rect x="281" y="528" width="17" height="12" rx="1.5" ry="1.5" fill="#fff" shape-rendering="auto"/>
<polygon points="297,531.2 301.5,533.6 301.5,534 297,536.4" fill="#fff" shape-rendering="auto"/>
<text x="289.5" y="538" font-size="10.5" text-anchor="middle" letter-spacing="0.3" stroke="#000" stroke-width="0.12">P1</text>
<polygon points="384,529.3 380.5,531.4 378,532.1 375.35,532.3 374.35,533 372.5,533 372.5,534.6 374.35,534.6 375.35,535.3 378,535.5 380.5,536.2 384,538.3" fill="#000" shape-rendering="auto"/>
<rect x="383" y="528" width="29" height="14" rx="2.5" ry="2.5" fill="#000" shape-rendering="auto"/>
<rect x="382" y="527" width="29" height="14" rx="2.5" ry="2.5" fill="#000" shape-rendering="auto"/>
<rect x="383" y="528" width="27" height="12" rx="1.5" ry="1.5" fill="#fff" shape-rendering="auto"/>
<polygon points="385,531.2 380.5,533.6 380.5,534 385,536.4" fill="#fff" shape-rendering="auto"/>
<text x="396.5" y="538" font-size="10.5" text-anchor="middle" letter-spacing="0.3" stroke="#000" stroke-width="0.12">FDD</text>
<polygon points="324.228,550.816 331.182,543.231 329.818,541.769 321.772,548.184" fill="#000" shape-rendering="auto"/>
<rect x="306" y="549" width="19" height="14" rx="2.5" ry="2.5" fill="#000" shape-rendering="auto"/>
<rect x="305" y="548" width="19" height="14" rx="2.5" ry="2.5" fill="#000" shape-rendering="auto"/>
<rect x="306" y="549" width="17" height="12" rx="1.5" ry="1.5" fill="#fff" shape-rendering="auto"/>
<text x="314.5" y="559" font-size="10.5" text-anchor="middle" letter-spacing="0.3" stroke="#000" stroke-width="0.12">S3</text>
<polygon points="361.685,548.145 353.159,541.747 351.841,543.253 359.315,550.855" fill="#000" shape-rendering="auto"/>
<rect x="359" y="549" width="18" height="14" rx="2.5" ry="2.5" fill="#000" shape-rendering="auto"/>
<rect x="358" y="548" width="18" height="14" rx="2.5" ry="2.5" fill="#000" shape-rendering="auto"/>
<rect x="359" y="549" width="16" height="12" rx="1.5" ry="1.5" fill="#fff" shape-rendering="auto"/>
<text x="367" y="559" font-size="10.5" text-anchor="middle" letter-spacing="0.3" stroke="#000" stroke-width="0.12">S0</text>
<polygon points="342.1,557 343.7,552 344.5,542.5 346.9,542.5 347.7,552 349.3,557" fill="#000" shape-rendering="auto"/>
<rect x="336" y="556" width="20" height="14" rx="2.5" ry="2.5" fill="#000" shape-rendering="auto"/>
<rect x="335" y="555" width="20" height="14" rx="2.5" ry="2.5" fill="#000" shape-rendering="auto"/>
<rect x="336" y="556" width="18" height="12" rx="1.5" ry="1.5" fill="#fff" shape-rendering="auto"/>
<polygon points="344.1,558 345.5,553.5 345.9,553.5 347.3,558" fill="#fff" shape-rendering="auto"/>
<text x="345" y="566" font-size="10.5" text-anchor="middle" letter-spacing="0.3" stroke="#000" stroke-width="0.12">S1</text>
<polygon points="282,570.9 285.5,573 288,573.7 292.4,573.9 293.4,574.6 296,574.6 296,576.2 293.4,576.2 292.4,576.9 288,577.1 285.5,577.8 282,579.9" fill="#000" shape-rendering="auto"/>
<rect x="256" y="569" width="28" height="14" rx="2.5" ry="2.5" fill="#000" shape-rendering="auto"/>
<rect x="255" y="568" width="28" height="14" rx="2.5" ry="2.5" fill="#000" shape-rendering="auto"/>
<rect x="256" y="569" width="26" height="12" rx="1.5" ry="1.5" fill="#fff" shape-rendering="auto"/>
<polygon points="281,572.8 285.5,575.2 285.5,575.6 281,578" fill="#fff" shape-rendering="auto"/>
<text x="269" y="579" font-size="10.5" text-anchor="middle" letter-spacing="0.3" stroke="#000" stroke-width="0.12">PJ5</text>
<rect x="295" y="570" width="96" height="11" fill="#000"/>
<rect x="301" y="571" width="1" height="9" fill="#fff"/>
<rect x="306" y="571" width="1" height="9" fill="#fff"/>
<rect x="310" y="571" width="1" height="9" fill="#fff"/>
<rect x="315" y="571" width="1" height="9" fill="#fff"/>
<rect x="320" y="571" width="1" height="9" fill="#fff"/>
<rect x="329" y="571" width="1" height="9" fill="#fff"/>
<rect x="334" y="571" width="1" height="9" fill="#fff"/>
<rect x="339" y="571" width="1" height="9" fill="#fff"/>
<rect x="343" y="571" width="1" height="9" fill="#fff"/>
<rect x="348" y="571" width="1" height="9" fill="#fff"/>
<rect x="357" y="571" width="1" height="9" fill="#fff"/>
<rect x="362" y="571" width="1" height="9" fill="#fff"/>
<rect x="371" y="571" width="1" height="9" fill="#fff"/>
<rect x="376" y="571" width="1" height="9" fill="#fff"/>
<rect x="381" y="571" width="1" height="9" fill="#fff"/>
<rect x="386" y="571" width="1" height="9" fill="#fff"/>
<rect x="389" y="571" width="1" height="9" fill="#fff"/>
<rect x="297" y="575" width="93" height="1" fill="#fff"/>
<rect x="296" y="579" width="94" height="1" fill="#fff"/>
<rect x="297" y="577" width="2" height="1" fill="#fff"/>
<polygon points="424.1,556 425.7,561 426.5,570.5 428.9,570.5 429.7,561 431.3,556" fill="#000" shape-rendering="auto"/>
<rect x="416" y="544" width="27" height="14" rx="2.5" ry="2.5" fill="#000" shape-rendering="auto"/>
<rect x="415" y="543" width="27" height="14" rx="2.5" ry="2.5" fill="#000" shape-rendering="auto"/>
<rect x="416" y="544" width="25" height="12" rx="1.5" ry="1.5" fill="#fff" shape-rendering="auto"/>
<polygon points="426.1,555 427.5,559.5 427.9,559.5 429.3,555" fill="#fff" shape-rendering="auto"/>
<text x="428.5" y="554" font-size="10.5" text-anchor="middle" letter-spacing="0.3" stroke="#000" stroke-width="0.12">PJ1</text>
<rect x="399" y="570" width="82" height="11" fill="#000"/>
<rect x="404" y="571" width="1" height="9" fill="#fff"/>
<rect x="409" y="571" width="1" height="9" fill="#fff"/>
<rect x="414" y="571" width="1" height="9" fill="#fff"/>
<rect x="419" y="571" width="1" height="9" fill="#fff"/>
<rect x="423" y="571" width="1" height="9" fill="#fff"/>
<rect x="428" y="571" width="1" height="9" fill="#fff"/>
<rect x="433" y="571" width="1" height="9" fill="#fff"/>
<rect x="437" y="571" width="1" height="9" fill="#fff"/>
<rect x="442" y="571" width="1" height="9" fill="#fff"/>
<rect x="447" y="571" width="1" height="9" fill="#fff"/>
<rect x="451" y="571" width="1" height="9" fill="#fff"/>
<rect x="456" y="571" width="1" height="9" fill="#fff"/>
<rect x="461" y="571" width="1" height="9" fill="#fff"/>
<rect x="470" y="571" width="1" height="9" fill="#fff"/>
<rect x="475" y="571" width="1" height="9" fill="#fff"/>
<rect x="401" y="575" width="75" height="1" fill="#fff"/>
<rect x="402" y="577" width="2" height="2" fill="#fff"/>
<polygon points="645,407.5 648.5,409.6 651,410.3 655.05,410.5 656.05,411.2 658.5,411.2 658.5,412.8 656.05,412.8 655.05,413.5 651,413.7 648.5,414.4 645,416.5" fill="#000" shape-rendering="auto"/>
<rect x="614" y="406" width="33" height="13" rx="2.5" ry="2.5" fill="#000" shape-rendering="auto"/>
<rect x="613" y="405" width="33" height="13" rx="2.5" ry="2.5" fill="#000" shape-rendering="auto"/>
<rect x="614" y="406" width="31" height="11" rx="1.5" ry="1.5" fill="#fff" shape-rendering="auto"/>
<polygon points="644,409.4 648.5,411.8 648.5,412.2 644,414.6" fill="#fff" shape-rendering="auto"/>
<text x="628" y="416" font-size="10.5" text-anchor="middle" letter-spacing="0.7" stroke="#000" stroke-width="0.12">J11B</text>
<rect x="658" y="407" width="25" height="10" fill="#000"/>
<rect x="662" y="408" width="1" height="8" fill="#fff"/>
<rect x="667" y="408" width="1" height="8" fill="#fff"/>
<rect x="672" y="408" width="1" height="8" fill="#fff"/>
<rect x="681" y="408" width="1" height="8" fill="#fff"/>
<rect x="660" y="412" width="22" height="1" fill="#fff"/>
<rect x="661" y="414" width="2" height="2" fill="#fff"/>
<polygon points="648,229.8 651.5,231.9 654,232.6 658.05,232.8 659.05,233.5 661.5,233.5 661.5,235.1 659.05,235.1 658.05,235.8 654,236 651.5,236.7 648,238.8" fill="#000" shape-rendering="auto"/>
<rect x="618" y="229" width="32" height="13" rx="2.5" ry="2.5" fill="#000" shape-rendering="auto"/>
<rect x="617" y="228" width="32" height="13" rx="2.5" ry="2.5" fill="#000" shape-rendering="auto"/>
<rect x="618" y="229" width="30" height="11" rx="1.5" ry="1.5" fill="#fff" shape-rendering="auto"/>
<polygon points="647,231.7 651.5,234.1 651.5,234.5 647,236.9" fill="#fff" shape-rendering="auto"/>
<text x="633" y="237.4" font-size="10.5" text-anchor="middle" letter-spacing="0.3" stroke="#000" stroke-width="0.12">JP20</text>
<rect x="661" y="232" width="11" height="5" fill="#000"/>
<rect x="665" y="233" width="2" height="3" fill="#fff"/>
<polygon points="488,495.1 491.5,497.2 494,497.9 499.45,498.1 500.45,498.8 503.5,498.8 503.5,500.4 500.45,500.4 499.45,501.1 494,501.3 491.5,502 488,504.1" fill="#000" shape-rendering="auto"/>
<rect x="462" y="493" width="28" height="13" rx="2.5" ry="2.5" fill="#000" shape-rendering="auto"/>
<rect x="461" y="492" width="28" height="13" rx="2.5" ry="2.5" fill="#000" shape-rendering="auto"/>
<rect x="462" y="493" width="26" height="11" rx="1.5" ry="1.5" fill="#fff" shape-rendering="auto"/>
<polygon points="487,497 491.5,499.4 491.5,499.8 487,502.2" fill="#fff" shape-rendering="auto"/>
<text x="475" y="503" font-size="10.5" text-anchor="middle" letter-spacing="0.3" stroke="#000" stroke-width="0.12">PJ6</text>
<text x="494.2" y="493.6" font-size="10.5" text-anchor="start" letter-spacing="0" stroke="#000" stroke-width="0.12">2</text>
<rect x="502" y="495" width="10" height="11" fill="#000"/>
<rect x="503" y="500" width="8" height="1" fill="#fff"/>
<rect x="507" y="496" width="1" height="9" fill="#fff"/>
<rect x="504" y="502" width="2" height="2" fill="#fff"/>
<rect x="557" y="485" width="90" height="20" fill="#000"/>
<rect x="558" y="486" width="88" height="18" fill="#fff"/>
<rect x="559" y="488" width="5" height="2" fill="#000"/>
<rect x="559" y="494" width="6" height="2" fill="#000"/>
<rect x="566" y="488" width="5" height="2" fill="#000"/>
<rect x="566" y="494" width="6" height="2" fill="#000"/>
<rect x="574" y="488" width="5" height="2" fill="#000"/>
<rect x="574" y="494" width="6" height="2" fill="#000"/>
<rect x="581" y="488" width="5" height="2" fill="#000"/>
<rect x="581" y="494" width="6" height="2" fill="#000"/>
<rect x="588" y="488" width="5" height="2" fill="#000"/>
<rect x="588" y="494" width="6" height="2" fill="#000"/>
<rect x="596" y="488" width="5" height="2" fill="#000"/>
<rect x="596" y="494" width="6" height="2" fill="#000"/>
<rect x="603" y="488" width="5" height="2" fill="#000"/>
<rect x="603" y="494" width="6" height="2" fill="#000"/>
<rect x="610" y="488" width="5" height="2" fill="#000"/>
<rect x="610" y="494" width="6" height="2" fill="#000"/>
<rect x="617" y="488" width="5" height="2" fill="#000"/>
<rect x="617" y="494" width="6" height="2" fill="#000"/>
<rect x="625" y="488" width="5" height="2" fill="#000"/>
<rect x="625" y="494" width="6" height="2" fill="#000"/>
<rect x="632" y="488" width="5" height="2" fill="#000"/>
<rect x="632" y="494" width="6" height="2" fill="#000"/>
<rect x="639" y="488" width="5" height="2" fill="#000"/>
<rect x="639" y="494" width="6" height="2" fill="#000"/>
<rect x="562" y="496" width="6" height="6" fill="#000"/>
<rect x="563" y="497" width="4" height="4" fill="#fff"/>
<rect x="570" y="496" width="6" height="6" fill="#000"/>
<rect x="571" y="497" width="4" height="4" fill="#fff"/>
<rect x="577" y="496" width="6" height="6" fill="#000"/>
<rect x="578" y="497" width="4" height="4" fill="#fff"/>
<rect x="585" y="496" width="6" height="6" fill="#000"/>
<rect x="586" y="497" width="4" height="4" fill="#fff"/>
<rect x="592" y="496" width="6" height="6" fill="#000"/>
<rect x="593" y="497" width="4" height="4" fill="#fff"/>
<rect x="600" y="496" width="6" height="6" fill="#000"/>
<rect x="601" y="497" width="4" height="4" fill="#fff"/>
<rect x="607" y="496" width="6" height="6" fill="#000"/>
<rect x="608" y="497" width="4" height="4" fill="#fff"/>
<rect x="615" y="496" width="6" height="6" fill="#000"/>
<rect x="616" y="497" width="4" height="4" fill="#fff"/>
<rect x="622" y="496" width="6" height="6" fill="#000"/>
<rect x="623" y="497" width="4" height="4" fill="#fff"/>
<rect x="630" y="496" width="6" height="6" fill="#000"/>
<rect x="631" y="497" width="4" height="4" fill="#fff"/>
<rect x="637" y="496" width="6" height="6" fill="#000"/>
<rect x="638" y="497" width="4" height="4" fill="#fff"/>
<rect x="561" y="490" width="84" height="1" fill="#000"/>
<rect x="559" y="493" width="87" height="1" fill="#000"/>
<rect x="557" y="496" width="3" height="5" fill="#000"/>
<rect x="557" y="498" width="1" height="1" fill="#fff"/>
<rect x="644" y="496" width="3" height="5" fill="#000"/>
<rect x="646" y="498" width="1" height="1" fill="#fff"/>
<polygon points="512,529.3 515.5,531.4 518,532.1 522.4,532.3 523.4,533 526,533 526,534.6 523.4,534.6 522.4,535.3 518,535.5 515.5,536.2 512,538.3" fill="#000" shape-rendering="auto"/>
<rect x="486" y="527" width="28" height="14" rx="2.5" ry="2.5" fill="#000" shape-rendering="auto"/>
<rect x="485" y="526" width="28" height="14" rx="2.5" ry="2.5" fill="#000" shape-rendering="auto"/>
<rect x="486" y="527" width="26" height="12" rx="1.5" ry="1.5" fill="#fff" shape-rendering="auto"/>
<polygon points="511,531.2 515.5,533.6 515.5,534 511,536.4" fill="#fff" shape-rendering="auto"/>
<text x="499" y="537" font-size="10.5" text-anchor="middle" letter-spacing="0.3" stroke="#000" stroke-width="0.12">PRT</text>
<rect x="525" y="531" width="15" height="6" fill="#000"/>
<rect x="527" y="533" width="2" height="2" fill="#fff"/>
<rect x="530" y="532" width="1" height="4" fill="#fff"/>
<polygon points="519,556 520.6,561 521.4,570.5 523.8,570.5 524.6,561 526.2,556" fill="#000" shape-rendering="auto"/>
<rect x="511" y="544" width="27" height="14" rx="2.5" ry="2.5" fill="#000" shape-rendering="auto"/>
<rect x="510" y="543" width="27" height="14" rx="2.5" ry="2.5" fill="#000" shape-rendering="auto"/>
<rect x="511" y="544" width="25" height="12" rx="1.5" ry="1.5" fill="#fff" shape-rendering="auto"/>
<polygon points="521,555 522.4,559.5 522.8,559.5 524.2,555" fill="#fff" shape-rendering="auto"/>
<text x="523.5" y="554" font-size="10.5" text-anchor="middle" letter-spacing="0.3" stroke="#000" stroke-width="0.12">PJ2</text>
<rect x="494" y="570" width="63" height="11" fill="#000"/>
<rect x="499" y="571" width="1" height="9" fill="#fff"/>
<rect x="504" y="571" width="1" height="9" fill="#fff"/>
<rect x="509" y="571" width="1" height="9" fill="#fff"/>
<rect x="514" y="571" width="1" height="9" fill="#fff"/>
<rect x="518" y="571" width="1" height="9" fill="#fff"/>
<rect x="523" y="571" width="1" height="9" fill="#fff"/>
<rect x="528" y="571" width="1" height="9" fill="#fff"/>
<rect x="532" y="571" width="1" height="9" fill="#fff"/>
<rect x="537" y="571" width="1" height="9" fill="#fff"/>
<rect x="542" y="571" width="1" height="9" fill="#fff"/>
<rect x="546" y="571" width="1" height="9" fill="#fff"/>
<rect x="555" y="571" width="1" height="9" fill="#fff"/>
<rect x="495" y="575" width="61" height="1" fill="#fff"/>
<rect x="495" y="571" width="1" height="9" fill="#fff"/>
<rect x="497" y="577" width="2" height="2" fill="#fff"/>
<polygon points="574.4,556 576,561 576.8,570.5 579.2,570.5 580,561 581.6,556" fill="#000" shape-rendering="auto"/>
<rect x="566" y="544" width="27" height="14" rx="2.5" ry="2.5" fill="#000" shape-rendering="auto"/>
<rect x="565" y="543" width="27" height="14" rx="2.5" ry="2.5" fill="#000" shape-rendering="auto"/>
<rect x="566" y="544" width="25" height="12" rx="1.5" ry="1.5" fill="#fff" shape-rendering="auto"/>
<polygon points="576.4,555 577.8,559.5 578.2,559.5 579.6,555" fill="#fff" shape-rendering="auto"/>
<text x="578.5" y="554" font-size="10.5" text-anchor="middle" letter-spacing="0.3" stroke="#000" stroke-width="0.12">PJ3</text>
<rect x="566" y="570" width="25" height="11" fill="#000"/>
<rect x="572" y="571" width="1" height="9" fill="#fff"/>
<rect x="579" y="571" width="1" height="9" fill="#fff"/>
<rect x="586" y="571" width="1" height="9" fill="#fff"/>
<rect x="568" y="575" width="19" height="1" fill="#fff"/>
<rect x="569" y="577" width="2" height="2" fill="#fff"/>
<polygon points="607.9,556 609.5,561 610.3,570.5 612.7,570.5 613.5,561 615.1,556" fill="#000" shape-rendering="auto"/>
<rect x="600" y="544" width="26" height="14" rx="2.5" ry="2.5" fill="#000" shape-rendering="auto"/>
<rect x="599" y="543" width="26" height="14" rx="2.5" ry="2.5" fill="#000" shape-rendering="auto"/>
<rect x="600" y="544" width="24" height="12" rx="1.5" ry="1.5" fill="#fff" shape-rendering="auto"/>
<polygon points="609.9,555 611.3,559.5 611.7,559.5 613.1,555" fill="#fff" shape-rendering="auto"/>
<text x="612" y="554" font-size="10.5" text-anchor="middle" letter-spacing="0.3" stroke="#000" stroke-width="0.12">PJ4</text>
<rect x="600" y="570" width="25" height="11" fill="#000"/>
<rect x="606" y="571" width="1" height="9" fill="#fff"/>
<rect x="613" y="571" width="1" height="9" fill="#fff"/>
<rect x="620" y="571" width="1" height="9" fill="#fff"/>
<rect x="602" y="575" width="19" height="1" fill="#fff"/>
<rect x="603" y="577" width="2" height="2" fill="#fff"/>
</g>
<rect x="663" y="534" width="19" height="31" fill="#000"/>
<rect x="682" y="531" width="3" height="37" fill="#000"/>
<rect x="685" y="529" width="3" height="41" fill="#000"/>
<rect x="658" y="541" width="6" height="8" fill="#000"/>
<rect x="659" y="542" width="2" height="6" fill="#fff"/>
<rect x="658" y="550" width="6" height="8" fill="#000"/>
<rect x="659" y="551" width="2" height="6" fill="#fff"/>
<rect x="662" y="548" width="1" height="3" fill="#fff"/>
</svg>
</body></html>
